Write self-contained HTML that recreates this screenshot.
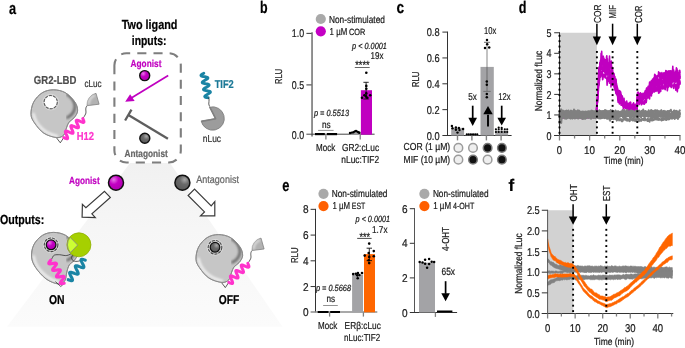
<!DOCTYPE html><html><head><meta charset="utf-8"><title>Figure</title>
<style>html,body{margin:0;padding:0;background:#fff;}svg{display:block;will-change:transform;font-family:'Liberation Sans', Arial, sans-serif;text-rendering:geometricPrecision;}</style></head><body>
<svg width="685" height="348" viewBox="0 0 685 348">
<defs>
<linearGradient id="beam" x1="0" y1="0" x2="0" y2="1"><stop offset="0" stop-color="#f1f1f1"/><stop offset="0.4" stop-color="#f6f6f6"/><stop offset="1" stop-color="#fbfbfb"/></linearGradient>
<radialGradient id="gMag" cx="0.35" cy="0.3" r="0.7"><stop offset="0" stop-color="#e878e8"/><stop offset="0.45" stop-color="#c400c4"/><stop offset="1" stop-color="#b000b0"/></radialGradient>
<radialGradient id="gGry" cx="0.65" cy="0.3" r="0.7"><stop offset="0" stop-color="#a8a8a8"/><stop offset="0.45" stop-color="#6a6a6a"/><stop offset="1" stop-color="#5a5a5a"/></radialGradient>
<radialGradient id="gBlob" cx="0.4" cy="0.4" r="0.75"><stop offset="0" stop-color="#c4c4c4"/><stop offset="0.7" stop-color="#bcbcbc"/><stop offset="1" stop-color="#aaaaaa"/></radialGradient>
<filter id="blur1" x="-20%" y="-20%" width="140%" height="140%"><feGaussianBlur stdDeviation="1.0"/></filter>
<clipPath id="blobclip"><path id="blobp" d="M53.40,89.80 C57.28,89.80 61.90,90.73 65.50,92.80 C69.10,94.87 72.98,99.18 75.00,102.20 C77.02,105.22 77.75,108.30 77.60,110.90 C77.45,113.50 75.53,115.93 74.10,117.80 C72.67,119.67 70.28,120.38 69.00,122.10 C67.72,123.82 67.27,125.95 66.40,128.10 C65.53,130.25 65.38,133.42 63.80,135.00 C62.22,136.58 60.20,137.88 56.90,137.60 C53.60,137.32 47.73,135.75 44.00,133.30 C40.27,130.85 36.67,126.07 34.50,122.90 C32.33,119.73 31.15,117.75 31.00,114.30 C30.85,110.85 31.73,105.78 33.60,102.20 C35.47,98.62 38.90,94.87 42.20,92.80 C45.50,90.73 49.52,89.80 53.40,89.80Z"/></clipPath>
</defs>
<polygon points="130,163 170,163 282.5,326.8 7,326.8" fill="url(#beam)"/>
<text x="8.90" y="14.40" font-size="16.8" font-weight="bold" fill="#000" stroke="#000" stroke-width="0.22" textLength="7.10" lengthAdjust="spacingAndGlyphs">a</text>
<text x="121.70" y="29.20" font-size="13.1" font-weight="bold" fill="#000" stroke="#000" stroke-width="0.22" textLength="55.80" lengthAdjust="spacingAndGlyphs">Two ligand</text>
<text x="131.80" y="44.70" font-size="13.1" font-weight="bold" fill="#000" stroke="#000" stroke-width="0.22" textLength="34.60" lengthAdjust="spacingAndGlyphs">inputs:</text>
<path d="M114.4,65.2 V150.5 A12,12 0 0 0 126.4,162.5 H168.8 A12,12 0 0 0 180.8,150.5 V65.2 A12,12 0 0 0 168.8,53.2 H126.4 A12,12 0 0 0 114.4,65.2" fill="#fff" stroke="#7e7e7e" stroke-width="2.1" stroke-dasharray="9.1,7.1"/>
<text x="130.60" y="66.80" font-size="10.2" font-weight="bold" fill="#c000c0" stroke="#c000c0" stroke-width="0.22" textLength="30.80" lengthAdjust="spacingAndGlyphs">Agonist</text>
<circle cx="144.70" cy="75.60" r="5.0" fill="url(#gMag)" stroke="#111" stroke-width="1.4"/>
<line x1="168.20" y1="75.60" x2="130.50" y2="98.60" stroke="#c000c0" stroke-width="1.7" />
<polygon points="125.2,101.8 130.1,94.2 134.7,101.1" fill="#c000c0"/>
<line x1="131.50" y1="109.60" x2="125.10" y2="120.50" stroke="#5e5e5e" stroke-width="2.3" />
<line x1="128.40" y1="115.00" x2="167.90" y2="138.80" stroke="#5e5e5e" stroke-width="2.3" />
<circle cx="144.80" cy="138.30" r="5.0" fill="url(#gGry)" stroke="#111" stroke-width="1.4"/>
<text x="124.50" y="156.80" font-size="10.2" font-weight="bold" fill="#666" stroke="#666" stroke-width="0.22" textLength="43.30" lengthAdjust="spacingAndGlyphs">Antagonist</text>
<text x="33.80" y="84.30" font-size="11.6" font-weight="bold" fill="#4d4d4d" stroke="#4d4d4d" stroke-width="0.22" textLength="42.50" lengthAdjust="spacingAndGlyphs">GR2-LBD</text>
<text x="84.40" y="87.10" font-size="10.1" font-weight="normal" fill="#333" stroke="#333" stroke-width="0.22" textLength="17.20" lengthAdjust="spacingAndGlyphs">cLuc</text>
<path d="M87.1,105.7 C84.5,108.5 86.8,111.5 85.6,114 C84.8,116 83.5,117.5 82.8,118.6" fill="none" stroke="#333" stroke-width="0.8"/>
<path d="M63.8,137.6 L60.3,142.8 L56.2,137.4" fill="none" stroke="#333" stroke-width="0.8"/>
<g transform="translate(0,0)">
<path d="M53.40,89.80 C57.28,89.80 61.90,90.73 65.50,92.80 C69.10,94.87 72.98,99.18 75.00,102.20 C77.02,105.22 77.75,108.30 77.60,110.90 C77.45,113.50 75.53,115.93 74.10,117.80 C72.67,119.67 70.28,120.38 69.00,122.10 C67.72,123.82 67.27,125.95 66.40,128.10 C65.53,130.25 65.38,133.42 63.80,135.00 C62.22,136.58 60.20,137.88 56.90,137.60 C53.60,137.32 47.73,135.75 44.00,133.30 C40.27,130.85 36.67,126.07 34.50,122.90 C32.33,119.73 31.15,117.75 31.00,114.30 C30.85,110.85 31.73,105.78 33.60,102.20 C35.47,98.62 38.90,94.87 42.20,92.80 C45.50,90.73 49.52,89.80 53.40,89.80Z" fill="#c6c6c6" stroke="#8a8a8a" stroke-width="0.9"/>
<g clip-path="url(#blobclip)">
<path d="M67.5,94.5 C74.5,98.5 76.6,106.5 73.5,112 C72,115 69.5,116.5 67.5,117.5" fill="none" stroke="#6e6e6e" stroke-width="2.8" filter="url(#blur1)" stroke-linecap="round"/>
<path d="M33.5,114 C35.5,125 45,133.5 57,136" fill="none" stroke="#efefef" stroke-width="2.6" filter="url(#blur1)" stroke-linecap="round"/>
</g>
<path d="M53.40,89.80 C57.28,89.80 61.90,90.73 65.50,92.80 C69.10,94.87 72.98,99.18 75.00,102.20 C77.02,105.22 77.75,108.30 77.60,110.90 C77.45,113.50 75.53,115.93 74.10,117.80 C72.67,119.67 70.28,120.38 69.00,122.10 C67.72,123.82 67.27,125.95 66.40,128.10 C65.53,130.25 65.38,133.42 63.80,135.00 C62.22,136.58 60.20,137.88 56.90,137.60 C53.60,137.32 47.73,135.75 44.00,133.30 C40.27,130.85 36.67,126.07 34.50,122.90 C32.33,119.73 31.15,117.75 31.00,114.30 C30.85,110.85 31.73,105.78 33.60,102.20 C35.47,98.62 38.90,94.87 42.20,92.80 C45.50,90.73 49.52,89.80 53.40,89.80Z" fill="none" stroke="#8a8a8a" stroke-width="0.9"/>
<circle cx="50.70" cy="102.10" r="7.9" fill="none" stroke="#dedede" stroke-width="0.8"/>
<circle cx="50.70" cy="102.10" r="6.5" fill="#fff"/>
<circle cx="50.7" cy="102.1" r="6.6" fill="none" stroke="#5a5a5a" stroke-width="1.1" stroke-dasharray="3.0,1.15"/>
</g>
<g transform="translate(0,0)">
<path d="M99.1,104.2 L96,93.3 A11.6,11.6 0 0 0 87.1,105.7 Z" fill="#b2b2b2" stroke="#808080" stroke-width="0.8" stroke-linejoin="round"/>
<path d="M95,95.2 A10,10 0 0 0 88.6,104.6" fill="none" stroke="#e0e0e0" stroke-width="2" filter="url(#blur1)"/>
</g>
<path d="M82.80,118.60 L83.20,119.47 L83.54,120.29 L83.80,121.03 L83.93,121.63 L83.90,122.08 L83.70,122.35 L83.33,122.45 L82.79,122.39 L82.11,122.18 L81.32,121.87 L80.46,121.49 L79.58,121.08 L78.74,120.71 L77.96,120.41 L77.30,120.22 L76.78,120.18 L76.43,120.31 L76.26,120.61 L76.25,121.08 L76.40,121.70 L76.67,122.45 L77.03,123.28 L77.43,124.15 L77.82,125.02 L78.16,125.83 L78.40,126.55 L78.51,127.13 L78.45,127.55 L78.23,127.80 L77.83,127.88 L77.27,127.79 L76.57,127.57 L75.77,127.25 L74.91,126.86 L74.03,126.46 L73.19,126.09 L72.43,125.80 L71.79,125.64 L71.29,125.62 L70.97,125.77 L70.82,126.09 L70.84,126.59 L71.00,127.23 L71.29,127.99 L71.66,128.83 L72.06,129.71 L72.45,130.57 L72.77,131.37 L72.99,132.07 L73.08,132.63 L73.00,133.03 L72.75,133.25 L72.33,133.31 L71.75,133.20 L71.03,132.96 L70.22,132.62 L69.35,132.23 L68.48,131.83 L67.65,131.47 L66.90,131.20 L66.28,131.05 L65.81,131.06 L65.51,131.23 L65.38,131.58 L65.42,132.10 L65.61,132.76 L65.91,133.54 L66.28,134.38 L66.69,135.26 L67.07,136.12 L67.38,136.91 L67.59,137.59 L67.65,138.13 L67.55,138.50 L67.28,138.70 L66.83,138.73 L66.23,138.60 L65.49,138.34 L64.67,138.00 L63.80,137.60" fill="none" stroke="#ff33cc" stroke-width="3" stroke-linecap="round" stroke-linejoin="round"/>
<text x="76.70" y="140.20" font-size="11.5" font-weight="bold" fill="#ff33cc" stroke="#ff33cc" stroke-width="0.22" textLength="17.30" lengthAdjust="spacingAndGlyphs">H12</text>
<path d="M203.80,73.20 L203.00,73.66 L202.26,74.11 L201.65,74.54 L201.21,74.93 L200.99,75.29 L200.99,75.61 L201.23,75.88 L201.69,76.12 L202.34,76.32 L203.14,76.49 L204.03,76.65 L204.95,76.80 L205.83,76.96 L206.62,77.14 L207.24,77.34 L207.68,77.58 L207.88,77.86 L207.85,78.19 L207.59,78.55 L207.13,78.95 L206.49,79.38 L205.75,79.83 L204.94,80.29 L204.15,80.75 L203.42,81.20 L202.83,81.62 L202.42,82.01 L202.23,82.37 L202.27,82.68 L202.54,82.95 L203.03,83.17 L203.71,83.37 L204.52,83.54 L205.42,83.70 L206.34,83.85 L207.21,84.01 L207.97,84.20 L208.58,84.40 L208.98,84.65 L209.15,84.94 L209.09,85.27 L208.80,85.63 L208.30,86.04 L207.65,86.47 L206.89,86.93 L206.08,87.39 L205.29,87.85 L204.59,88.29 L204.02,88.71 L203.64,89.10 L203.48,89.44 L203.55,89.75 L203.85,90.01 L204.37,90.23 L205.07,90.43 L205.91,90.59 L206.81,90.75 L207.73,90.90 L208.58,91.07 L209.33,91.25 L209.90,91.47 L210.27,91.72 L210.41,92.01 L210.32,92.34 L209.99,92.72 L209.48,93.13 L208.80,93.57 L208.03,94.02 L207.22,94.48 L206.44,94.94 L205.75,95.38 L205.21,95.80 L204.86,96.18 L204.73,96.52 L204.84,96.82 L205.17,97.07 L205.72,97.29 L206.44,97.48 L207.29,97.65 L208.20,97.80" fill="none" stroke="#1a84a4" stroke-width="2.9" stroke-linecap="round" stroke-linejoin="round"/>
<text x="214.70" y="88.20" font-size="11.4" font-weight="bold" fill="#1a7896" stroke="#1a7896" stroke-width="0.22" textLength="19.10" lengthAdjust="spacingAndGlyphs">TIF2</text>
<path d="M208.2,97.5 C210.5,100 207.5,103 209.5,106.5" fill="none" stroke="#333" stroke-width="0.8"/>
<path d="M215.60,118.70 L209.57,107.20 A11.7,11.7 0 1 1 201.16,120.93 Z" fill="#9c9c9c" stroke="#7a7a7a" stroke-width="0.8" stroke-linejoin="round"/>
<path d="M201.5,121.5 L215.6,118.7 L209.8,107" fill="none" stroke="#808080" stroke-width="1.6" stroke-linejoin="round"/>
<text x="202.80" y="141.60" font-size="10.1" font-weight="normal" fill="#333" stroke="#333" stroke-width="0.22" textLength="18.20" lengthAdjust="spacingAndGlyphs">nLuc</text>
<text x="69.00" y="183.60" font-size="10.2" font-weight="bold" fill="#c000c0" stroke="#c000c0" stroke-width="0.22" textLength="30.70" lengthAdjust="spacingAndGlyphs">Agonist</text>
<circle cx="116.00" cy="182.70" r="7.5" fill="url(#gMag)" stroke="#111" stroke-width="1.5"/>
<circle cx="182.40" cy="182.70" r="7.5" fill="url(#gGry)" stroke="#111" stroke-width="1.5"/>
<text x="196.20" y="182.90" font-size="10.6" font-weight="normal" fill="#666" stroke="#666" stroke-width="0.22" textLength="42.80" lengthAdjust="spacingAndGlyphs">Antagonist</text>
<polygon points="104.5,191.4 110.3,197.4 91.9,213.8 95.3,217.6 82.1,217.2 82.4,204.3 85.9,207.6" fill="#fff" stroke="#3a3a3a" stroke-width="1.2" stroke-linejoin="miter"/>
<polygon points="194.5,189.1 188.1,195.5 204.5,211.9 200.5,215.9 214.8,215.9 214.8,201.6 211.2,205.9" fill="#fff" stroke="#3a3a3a" stroke-width="1.2" stroke-linejoin="miter"/>
<text x="0.00" y="224.00" font-size="13.1" font-weight="bold" fill="#000" stroke="#000" stroke-width="0.22" textLength="44.30" lengthAdjust="spacingAndGlyphs">Outputs:</text>
<g transform="translate(0.2,142.6)">
<clipPath id="blobclip2"><path d="M53.40,89.80 C57.28,89.80 61.90,90.73 65.50,92.80 C69.10,94.87 72.98,99.18 75.00,102.20 C77.02,105.22 77.75,108.30 77.60,110.90 C77.45,113.50 75.53,115.90 74.10,117.80 C72.67,119.70 70.25,120.35 69.00,122.30 C67.75,124.25 67.33,126.85 66.60,129.50 C65.87,132.15 66.03,136.23 64.60,138.20 C63.17,140.17 61.10,141.60 58.00,141.30 C54.90,141.00 49.75,139.12 46.00,136.40 C42.25,133.68 37.93,128.65 35.50,125.00 C33.07,121.35 31.72,118.30 31.40,114.50 C31.08,110.70 31.80,105.82 33.60,102.20 C35.40,98.58 38.90,94.87 42.20,92.80 C45.50,90.73 49.52,89.80 53.40,89.80Z"/></clipPath>
<path d="M53.40,89.80 C57.28,89.80 61.90,90.73 65.50,92.80 C69.10,94.87 72.98,99.18 75.00,102.20 C77.02,105.22 77.75,108.30 77.60,110.90 C77.45,113.50 75.53,115.90 74.10,117.80 C72.67,119.70 70.25,120.35 69.00,122.30 C67.75,124.25 67.33,126.85 66.60,129.50 C65.87,132.15 66.03,136.23 64.60,138.20 C63.17,140.17 61.10,141.60 58.00,141.30 C54.90,141.00 49.75,139.12 46.00,136.40 C42.25,133.68 37.93,128.65 35.50,125.00 C33.07,121.35 31.72,118.30 31.40,114.50 C31.08,110.70 31.80,105.82 33.60,102.20 C35.40,98.58 38.90,94.87 42.20,92.80 C45.50,90.73 49.52,89.80 53.40,89.80Z" fill="#c6c6c6" stroke="#8a8a8a" stroke-width="0.9"/>
<g clip-path="url(#blobclip2)">
<path d="M67.5,94.5 C74.5,98.5 76.6,106.5 73.5,112 C72,115 69.5,116.5 67.5,117.5" fill="none" stroke="#6e6e6e" stroke-width="2.8" filter="url(#blur1)" stroke-linecap="round"/>
<path d="M33.5,114 C35.5,126 46,136 58,139.5" fill="none" stroke="#efefef" stroke-width="2.6" filter="url(#blur1)" stroke-linecap="round"/>
</g>
<path d="M53.40,89.80 C57.28,89.80 61.90,90.73 65.50,92.80 C69.10,94.87 72.98,99.18 75.00,102.20 C77.02,105.22 77.75,108.30 77.60,110.90 C77.45,113.50 75.53,115.90 74.10,117.80 C72.67,119.70 70.25,120.35 69.00,122.30 C67.75,124.25 67.33,126.85 66.60,129.50 C65.87,132.15 66.03,136.23 64.60,138.20 C63.17,140.17 61.10,141.60 58.00,141.30 C54.90,141.00 49.75,139.12 46.00,136.40 C42.25,133.68 37.93,128.65 35.50,125.00 C33.07,121.35 31.72,118.30 31.40,114.50 C31.08,110.70 31.80,105.82 33.60,102.20 C35.40,98.58 38.90,94.87 42.20,92.80 C45.50,90.73 49.52,89.80 53.40,89.80Z" fill="none" stroke="#8a8a8a" stroke-width="0.9"/>
</g>
<circle cx="51.10" cy="244.80" r="7.9" fill="none" stroke="#dedede" stroke-width="0.8"/>
<circle cx="51.10" cy="244.80" r="6.1" fill="#f2f2f2"/>
<circle cx="51.1" cy="244.8" r="6.8" fill="none" stroke="#4a4a4a" stroke-width="1.1" stroke-dasharray="3.0,1.1"/>
<circle cx="51.10" cy="244.80" r="4.85" fill="url(#gMag)" stroke="#111" stroke-width="1.3"/>
<path d="M71.6,253.1 C70.5,254.6 67,255.8 65.2,255.6 C62,255.2 60,254.5 58.2,254.7 C56.5,254.8 55,254.6 54.1,255.2 C52.8,256.2 52.6,257.4 52.1,258.2 C51.6,259 51.2,259.6 50.7,260.2" fill="none" stroke="#333" stroke-width="0.8"/>
<path d="M72.8,255.2 C72,256.5 71,257.2 71.6,258.2 C72,259.5 72.3,260.4 73.2,260.8 C75,261.6 76.8,261.4 78.3,261.2 C80.5,260.8 82,259.6 83.3,259.6 C84.2,259.6 84.8,259.9 85.3,260.2" fill="none" stroke="#333" stroke-width="0.8"/>
<path d="M64.2,283.3 L60.8,286.5 L55.4,281.6" fill="none" stroke="#333" stroke-width="0.8"/>
<circle cx="78.90" cy="244.80" r="12" fill="#a6d000" stroke="#8fae00" stroke-width="0.8"/>
<path d="M77.7,245.1 L70.1,237.2 A12,12 0 0 0 70.4,252.6 Z" fill="#ccff33" stroke="#8c8c78" stroke-width="0.9" stroke-linejoin="round"/>
<path d="M50.70,260.20 L50.10,260.94 L49.55,261.65 L49.11,262.29 L48.84,262.84 L48.75,263.28 L48.87,263.59 L49.21,263.78 L49.75,263.86 L50.45,263.83 L51.30,263.72 L52.22,263.57 L53.17,263.40 L54.09,263.26 L54.91,263.16 L55.60,263.15 L56.11,263.24 L56.42,263.44 L56.51,263.78 L56.39,264.23 L56.09,264.80 L55.64,265.45 L55.08,266.16 L54.47,266.91 L53.87,267.64 L53.34,268.34 L52.92,268.97 L52.67,269.51 L52.61,269.93 L52.76,270.23 L53.13,270.40 L53.69,270.46 L54.43,270.42 L55.28,270.31 L56.21,270.15 L57.16,269.98 L58.07,269.84 L58.88,269.75 L59.54,269.75 L60.02,269.86 L60.30,270.08 L60.36,270.44 L60.22,270.91 L59.89,271.49 L59.42,272.15 L58.85,272.87 L58.24,273.61 L57.65,274.35 L57.13,275.04 L56.73,275.66 L56.51,276.18 L56.48,276.58 L56.66,276.86 L57.06,277.02 L57.65,277.06 L58.40,277.01 L59.27,276.88 L60.21,276.72 L61.15,276.56 L62.05,276.42 L62.84,276.35 L63.48,276.36 L63.93,276.48 L64.18,276.73 L64.21,277.10 L64.04,277.58 L63.69,278.18 L63.20,278.85 L62.62,279.57 L62.01,280.32 L61.42,281.05 L60.92,281.73 L60.55,282.34 L60.35,282.84 L60.35,283.23 L60.56,283.49 L60.99,283.63 L61.60,283.66 L62.37,283.59 L63.26,283.46 L64.20,283.30" fill="none" stroke="#ff33cc" stroke-width="3.1" stroke-linecap="round" stroke-linejoin="round"/>
<path d="M85.30,260.20 L84.45,259.89 L83.64,259.61 L82.90,259.39 L82.26,259.25 L81.73,259.23 L81.34,259.32 L81.11,259.54 L81.02,259.89 L81.07,260.37 L81.25,260.96 L81.53,261.64 L81.90,262.39 L82.31,263.18 L82.73,263.98 L83.13,264.76 L83.47,265.50 L83.72,266.15 L83.86,266.70 L83.87,267.14 L83.73,267.45 L83.44,267.63 L83.01,267.68 L82.44,267.61 L81.76,267.45 L80.99,267.20 L80.17,266.91 L79.32,266.60 L78.48,266.29 L77.69,266.03 L76.97,265.83 L76.37,265.73 L75.89,265.74 L75.55,265.88 L75.36,266.14 L75.32,266.54 L75.42,267.05 L75.63,267.68 L75.95,268.38 L76.33,269.15 L76.75,269.95 L77.17,270.75 L77.55,271.52 L77.87,272.22 L78.08,272.85 L78.18,273.36 L78.14,273.76 L77.95,274.02 L77.61,274.16 L77.13,274.17 L76.53,274.07 L75.81,273.87 L75.02,273.61 L74.18,273.30 L73.33,272.99 L72.51,272.70 L71.74,272.45 L71.06,272.29 L70.49,272.22 L70.06,272.27 L69.77,272.45 L69.63,272.76 L69.64,273.20 L69.78,273.75 L70.03,274.40 L70.37,275.14 L70.77,275.92 L71.19,276.72 L71.60,277.51 L71.97,278.26 L72.25,278.94 L72.43,279.53 L72.48,280.01 L72.39,280.36 L72.16,280.58 L71.77,280.67 L71.24,280.65 L70.60,280.51 L69.86,280.29 L69.05,280.01 L68.20,279.70" fill="none" stroke="#1a84a4" stroke-width="3.1" stroke-linecap="round" stroke-linejoin="round"/>
<text x="49.00" y="304.30" font-size="12.8" font-weight="bold" fill="#000" stroke="#000" stroke-width="0.22" textLength="15.60" lengthAdjust="spacingAndGlyphs">ON</text>
<path transform="translate(165.0,144.8)" d="M87.1,105.7 C84.5,108.5 86.8,111.5 85.6,114 C84.8,116 83.5,117.5 82.8,118.6" fill="none" stroke="#333" stroke-width="0.8"/>
<path transform="translate(165.0,144.8)" d="M63.8,137.6 L60.3,142.8 L56.2,137.4" fill="none" stroke="#333" stroke-width="0.8"/>
<g transform="translate(165.0,144.8)">
<path d="M53.40,89.80 C57.28,89.80 61.90,90.73 65.50,92.80 C69.10,94.87 72.98,99.18 75.00,102.20 C77.02,105.22 77.75,108.30 77.60,110.90 C77.45,113.50 75.53,115.93 74.10,117.80 C72.67,119.67 70.28,120.38 69.00,122.10 C67.72,123.82 67.27,125.95 66.40,128.10 C65.53,130.25 65.38,133.42 63.80,135.00 C62.22,136.58 60.20,137.88 56.90,137.60 C53.60,137.32 47.73,135.75 44.00,133.30 C40.27,130.85 36.67,126.07 34.50,122.90 C32.33,119.73 31.15,117.75 31.00,114.30 C30.85,110.85 31.73,105.78 33.60,102.20 C35.47,98.62 38.90,94.87 42.20,92.80 C45.50,90.73 49.52,89.80 53.40,89.80Z" fill="#c6c6c6" stroke="#8a8a8a" stroke-width="0.9"/>
<g clip-path="url(#blobclip)">
<path d="M67.5,94.5 C74.5,98.5 76.6,106.5 73.5,112 C72,115 69.5,116.5 67.5,117.5" fill="none" stroke="#6e6e6e" stroke-width="2.8" filter="url(#blur1)" stroke-linecap="round"/>
<path d="M33.5,114 C35.5,125 45,133.5 57,136" fill="none" stroke="#efefef" stroke-width="2.6" filter="url(#blur1)" stroke-linecap="round"/>
</g>
<path d="M53.40,89.80 C57.28,89.80 61.90,90.73 65.50,92.80 C69.10,94.87 72.98,99.18 75.00,102.20 C77.02,105.22 77.75,108.30 77.60,110.90 C77.45,113.50 75.53,115.93 74.10,117.80 C72.67,119.67 70.28,120.38 69.00,122.10 C67.72,123.82 67.27,125.95 66.40,128.10 C65.53,130.25 65.38,133.42 63.80,135.00 C62.22,136.58 60.20,137.88 56.90,137.60 C53.60,137.32 47.73,135.75 44.00,133.30 C40.27,130.85 36.67,126.07 34.50,122.90 C32.33,119.73 31.15,117.75 31.00,114.30 C30.85,110.85 31.73,105.78 33.60,102.20 C35.47,98.62 38.90,94.87 42.20,92.80 C45.50,90.73 49.52,89.80 53.40,89.80Z" fill="none" stroke="#8a8a8a" stroke-width="0.9"/>
</g>
<circle cx="215.00" cy="247.30" r="7.9" fill="none" stroke="#dedede" stroke-width="0.8"/>
<circle cx="215.00" cy="247.30" r="6.1" fill="#f2f2f2"/>
<circle cx="215.0" cy="247.3" r="6.8" fill="none" stroke="#4a4a4a" stroke-width="1.1" stroke-dasharray="3.0,1.1"/>
<circle cx="215.00" cy="247.30" r="4.85" fill="url(#gGry)" stroke="#111" stroke-width="1.3"/>
<g transform="translate(165.0,144.8)">
<path d="M99.1,104.2 L96,93.3 A11.6,11.6 0 0 0 87.1,105.7 Z" fill="#b2b2b2" stroke="#808080" stroke-width="0.8" stroke-linejoin="round"/>
<path d="M95,95.2 A10,10 0 0 0 88.6,104.6" fill="none" stroke="#e0e0e0" stroke-width="2" filter="url(#blur1)"/>
</g>
<path transform="translate(165.0,144.8)" d="M82.80,118.60 L83.20,119.47 L83.54,120.29 L83.80,121.03 L83.93,121.63 L83.90,122.08 L83.70,122.35 L83.33,122.45 L82.79,122.39 L82.11,122.18 L81.32,121.87 L80.46,121.49 L79.58,121.08 L78.74,120.71 L77.96,120.41 L77.30,120.22 L76.78,120.18 L76.43,120.31 L76.26,120.61 L76.25,121.08 L76.40,121.70 L76.67,122.45 L77.03,123.28 L77.43,124.15 L77.82,125.02 L78.16,125.83 L78.40,126.55 L78.51,127.13 L78.45,127.55 L78.23,127.80 L77.83,127.88 L77.27,127.79 L76.57,127.57 L75.77,127.25 L74.91,126.86 L74.03,126.46 L73.19,126.09 L72.43,125.80 L71.79,125.64 L71.29,125.62 L70.97,125.77 L70.82,126.09 L70.84,126.59 L71.00,127.23 L71.29,127.99 L71.66,128.83 L72.06,129.71 L72.45,130.57 L72.77,131.37 L72.99,132.07 L73.08,132.63 L73.00,133.03 L72.75,133.25 L72.33,133.31 L71.75,133.20 L71.03,132.96 L70.22,132.62 L69.35,132.23 L68.48,131.83 L67.65,131.47 L66.90,131.20 L66.28,131.05 L65.81,131.06 L65.51,131.23 L65.38,131.58 L65.42,132.10 L65.61,132.76 L65.91,133.54 L66.28,134.38 L66.69,135.26 L67.07,136.12 L67.38,136.91 L67.59,137.59 L67.65,138.13 L67.55,138.50 L67.28,138.70 L66.83,138.73 L66.23,138.60 L65.49,138.34 L64.67,138.00 L63.80,137.60" fill="none" stroke="#ff33cc" stroke-width="3" stroke-linecap="round" stroke-linejoin="round"/>
<text x="218.70" y="304.30" font-size="12.8" font-weight="bold" fill="#000" stroke="#000" stroke-width="0.22" textLength="20.50" lengthAdjust="spacingAndGlyphs">OFF</text>
<text x="260.10" y="12.50" font-size="16.8" font-weight="bold" fill="#000" stroke="#000" stroke-width="0.22" textLength="7.60" lengthAdjust="spacingAndGlyphs">b</text>
<circle cx="320.80" cy="19.00" r="5.1" fill="#a9a9a9"/>
<circle cx="320.80" cy="31.30" r="5.1" fill="#c400c4"/>
<text x="329.00" y="22.50" font-size="10.1" font-weight="normal" fill="#1a1a1a" stroke="#1a1a1a" stroke-width="0.22" textLength="55.90" lengthAdjust="spacingAndGlyphs">Non-stimulated</text>
<text x="329.60" y="34.80" font-size="10.1" font-weight="normal" fill="#1a1a1a" stroke="#1a1a1a" stroke-width="0.22" textLength="17.60" lengthAdjust="spacingAndGlyphs">1 µM</text>
<text x="349.00" y="34.80" font-size="9.0" font-weight="normal" fill="#1a1a1a" stroke="#1a1a1a" stroke-width="0.22" textLength="16.30" lengthAdjust="spacingAndGlyphs">COR</text>
<line x1="312.05" y1="32.20" x2="312.05" y2="136.40" stroke="#8c8c8c" stroke-width="1.9" />
<line x1="306.40" y1="134.20" x2="374.60" y2="134.20" stroke="#444" stroke-width="1" />
<line x1="306.40" y1="33.40" x2="311.60" y2="33.40" stroke="#444" stroke-width="1.1" />
<line x1="306.40" y1="84.90" x2="311.60" y2="84.90" stroke="#444" stroke-width="1.1" />
<line x1="325.90" y1="134.70" x2="325.90" y2="139.50" stroke="#777" stroke-width="1.2" />
<line x1="360.20" y1="134.70" x2="360.20" y2="139.50" stroke="#777" stroke-width="1.2" />
<text x="291.80" y="37.40" font-size="11.3" font-weight="normal" fill="#1a1a1a" stroke="#1a1a1a" stroke-width="0.22" textLength="12.30" lengthAdjust="spacingAndGlyphs">1.0</text>
<text x="291.80" y="88.90" font-size="11.3" font-weight="normal" fill="#1a1a1a" stroke="#1a1a1a" stroke-width="0.22" textLength="12.30" lengthAdjust="spacingAndGlyphs">0.5</text>
<text x="291.80" y="139.20" font-size="11.3" font-weight="normal" fill="#1a1a1a" stroke="#1a1a1a" stroke-width="0.22" textLength="12.30" lengthAdjust="spacingAndGlyphs">0.0</text>
<text transform="translate(282.00,84.00) rotate(-90)" font-size="10" font-weight="normal" fill="#1a1a1a" stroke="#1a1a1a" stroke-width="0.22" textLength="15.10" lengthAdjust="spacingAndGlyphs">RLU</text>
<rect x="360.90" y="90.20" width="11.10" height="44.50" fill="#c000c0"/>
<rect x="349.60" y="132.60" width="10.60" height="2.10" fill="#a3a3a6"/>
<line x1="366.10" y1="82.30" x2="366.10" y2="99.00" stroke="#111" stroke-width="0.9" />
<line x1="363.40" y1="82.30" x2="368.70" y2="82.30" stroke="#111" stroke-width="0.9" />
<line x1="363.40" y1="99.00" x2="368.70" y2="99.00" stroke="#111" stroke-width="0.9" />
<circle cx="366.30" cy="72.70" r="1.3" fill="#000"/>
<circle cx="366.30" cy="85.90" r="1.3" fill="#000"/>
<circle cx="366.30" cy="88.80" r="1.3" fill="#000"/>
<circle cx="366.30" cy="93.40" r="1.3" fill="#000"/>
<circle cx="364.40" cy="95.30" r="1.3" fill="#000"/>
<circle cx="370.20" cy="95.30" r="1.3" fill="#000"/>
<circle cx="362.00" cy="97.70" r="1.3" fill="#000"/>
<circle cx="367.30" cy="97.70" r="1.3" fill="#000"/>
<circle cx="366.00" cy="96.40" r="1.3" fill="#000"/>
<line x1="315.00" y1="134.10" x2="324.80" y2="134.10" stroke="#000" stroke-width="2.2" />
<line x1="326.90" y1="134.10" x2="337.10" y2="134.10" stroke="#000" stroke-width="2.2" />
<circle cx="350.00" cy="133.00" r="1.2" fill="#000"/>
<circle cx="351.80" cy="132.60" r="1.2" fill="#000"/>
<circle cx="353.40" cy="132.20" r="1.2" fill="#000"/>
<circle cx="354.80" cy="131.40" r="1.2" fill="#000"/>
<circle cx="356.00" cy="131.00" r="1.2" fill="#000"/>
<circle cx="357.20" cy="131.60" r="1.2" fill="#000"/>
<circle cx="358.40" cy="132.20" r="1.2" fill="#000"/>
<circle cx="359.40" cy="132.80" r="1.2" fill="#000"/>
<text x="352.10" y="48.70" font-size="9" font-weight="normal" fill="#1a1a1a" stroke="#1a1a1a" stroke-width="0.22" font-style="italic" textLength="34.80" lengthAdjust="spacingAndGlyphs">p &lt; 0.0001</text>
<text x="370.50" y="59.30" font-size="10" font-weight="normal" fill="#1a1a1a" stroke="#1a1a1a" stroke-width="0.22" textLength="12.90" lengthAdjust="spacingAndGlyphs">19x</text>
<text x="355.20" y="69.30" font-size="12" font-weight="normal" fill="#1a1a1a" stroke="#1a1a1a" stroke-width="0.22" textLength="14.40" lengthAdjust="spacingAndGlyphs">****</text>
<line x1="354.80" y1="67.50" x2="369.70" y2="67.50" stroke="#555" stroke-width="0.9" />
<text x="313.90" y="115.70" font-size="9" font-weight="normal" fill="#1a1a1a" stroke="#1a1a1a" stroke-width="0.22" font-style="italic" textLength="35.20" lengthAdjust="spacingAndGlyphs">p = 0.5513</text>
<text x="322.00" y="127.50" font-size="10" font-weight="normal" fill="#1a1a1a" stroke="#1a1a1a" stroke-width="0.22" textLength="8.70" lengthAdjust="spacingAndGlyphs">ns</text>
<line x1="318.10" y1="130.40" x2="333.60" y2="130.40" stroke="#777" stroke-width="0.8" />
<text x="316.00" y="151.40" font-size="10.1" font-weight="normal" fill="#1a1a1a" stroke="#1a1a1a" stroke-width="0.22" textLength="19.20" lengthAdjust="spacingAndGlyphs">Mock</text>
<text x="341.90" y="151.40" font-size="10.1" font-weight="normal" fill="#1a1a1a" stroke="#1a1a1a" stroke-width="0.22" textLength="37.20" lengthAdjust="spacingAndGlyphs">GR2:cLuc</text>
<text x="341.30" y="163.30" font-size="10.1" font-weight="normal" fill="#1a1a1a" stroke="#1a1a1a" stroke-width="0.22" textLength="37.80" lengthAdjust="spacingAndGlyphs">nLuc:TIF2</text>
<text x="396.60" y="12.50" font-size="16.8" font-weight="bold" fill="#000" stroke="#000" stroke-width="0.22" textLength="7.60" lengthAdjust="spacingAndGlyphs">c</text>
<line x1="447.50" y1="31.60" x2="447.50" y2="135.50" stroke="#333" stroke-width="1" />
<line x1="442.40" y1="135.50" x2="511.60" y2="135.50" stroke="#333" stroke-width="1" />
<line x1="442.40" y1="109.65" x2="447.50" y2="109.65" stroke="#333" stroke-width="1" />
<line x1="442.40" y1="83.80" x2="447.50" y2="83.80" stroke="#333" stroke-width="1" />
<line x1="442.40" y1="57.95" x2="447.50" y2="57.95" stroke="#333" stroke-width="1" />
<line x1="442.40" y1="32.10" x2="447.50" y2="32.10" stroke="#333" stroke-width="1" />
<line x1="457.50" y1="135.50" x2="457.50" y2="140.40" stroke="#808080" stroke-width="1.4" />
<line x1="471.90" y1="135.50" x2="471.90" y2="140.40" stroke="#808080" stroke-width="1.4" />
<line x1="486.40" y1="135.50" x2="486.40" y2="140.40" stroke="#808080" stroke-width="1.4" />
<line x1="501.10" y1="135.50" x2="501.10" y2="140.40" stroke="#808080" stroke-width="1.4" />
<text x="426.70" y="139.80" font-size="11.3" font-weight="normal" fill="#1a1a1a" stroke="#1a1a1a" stroke-width="0.22" textLength="12.90" lengthAdjust="spacingAndGlyphs">0.0</text>
<text x="426.70" y="113.95" font-size="11.3" font-weight="normal" fill="#1a1a1a" stroke="#1a1a1a" stroke-width="0.22" textLength="12.90" lengthAdjust="spacingAndGlyphs">0.2</text>
<text x="426.70" y="88.10" font-size="11.3" font-weight="normal" fill="#1a1a1a" stroke="#1a1a1a" stroke-width="0.22" textLength="12.90" lengthAdjust="spacingAndGlyphs">0.4</text>
<text x="426.70" y="62.25" font-size="11.3" font-weight="normal" fill="#1a1a1a" stroke="#1a1a1a" stroke-width="0.22" textLength="12.90" lengthAdjust="spacingAndGlyphs">0.6</text>
<text x="426.70" y="36.40" font-size="11.3" font-weight="normal" fill="#1a1a1a" stroke="#1a1a1a" stroke-width="0.22" textLength="12.90" lengthAdjust="spacingAndGlyphs">0.8</text>
<text transform="translate(419.00,87.30) rotate(-90)" font-size="10" font-weight="normal" fill="#1a1a1a" stroke="#1a1a1a" stroke-width="0.22" textLength="15.90" lengthAdjust="spacingAndGlyphs">RLU</text>
<rect x="451.20" y="127.90" width="12.90" height="7.60" fill="#a3a3a6"/>
<rect x="465.60" y="134.40" width="12.80" height="1.10" fill="#a3a3a6"/>
<rect x="480.50" y="66.90" width="13.30" height="68.60" fill="#a3a3a6"/>
<rect x="495.20" y="130.60" width="12.90" height="4.90" fill="#a3a3a6"/>
<line x1="487.00" y1="42.30" x2="487.00" y2="91.40" stroke="#555" stroke-width="0.7" />
<line x1="484.00" y1="42.30" x2="490.10" y2="42.30" stroke="#444" stroke-width="0.8" />
<line x1="483.30" y1="91.40" x2="490.70" y2="91.40" stroke="#666" stroke-width="0.8" />
<circle cx="487.00" cy="39.90" r="1.25" fill="#000"/>
<circle cx="485.00" cy="48.00" r="1.25" fill="#000"/>
<circle cx="489.20" cy="47.40" r="1.25" fill="#000"/>
<circle cx="487.20" cy="44.20" r="1.25" fill="#000"/>
<circle cx="486.80" cy="81.60" r="1.25" fill="#000"/>
<circle cx="486.80" cy="84.70" r="1.25" fill="#000"/>
<circle cx="486.80" cy="93.90" r="1.25" fill="#000"/>
<circle cx="486.80" cy="97.30" r="1.25" fill="#000"/>
<circle cx="451.90" cy="125.90" r="1.2" fill="#000"/>
<circle cx="452.50" cy="128.30" r="1.2" fill="#000"/>
<circle cx="455.90" cy="127.50" r="1.2" fill="#000"/>
<circle cx="455.90" cy="129.80" r="1.2" fill="#000"/>
<circle cx="457.50" cy="132.60" r="1.2" fill="#000"/>
<circle cx="458.90" cy="128.00" r="1.2" fill="#000"/>
<circle cx="459.50" cy="130.10" r="1.2" fill="#000"/>
<circle cx="463.10" cy="129.00" r="1.2" fill="#000"/>
<circle cx="466.80" cy="134.40" r="1.05" fill="#000"/>
<circle cx="468.55" cy="134.40" r="1.05" fill="#000"/>
<circle cx="470.30" cy="134.40" r="1.05" fill="#000"/>
<circle cx="472.05" cy="134.40" r="1.05" fill="#000"/>
<circle cx="473.80" cy="134.40" r="1.05" fill="#000"/>
<circle cx="475.55" cy="134.40" r="1.05" fill="#000"/>
<circle cx="477.30" cy="134.40" r="1.05" fill="#000"/>
<circle cx="495.90" cy="129.30" r="1.1" fill="#000"/>
<circle cx="498.70" cy="129.30" r="1.1" fill="#000"/>
<circle cx="501.70" cy="129.30" r="1.1" fill="#000"/>
<circle cx="504.80" cy="129.30" r="1.1" fill="#000"/>
<circle cx="507.20" cy="129.30" r="1.1" fill="#000"/>
<circle cx="495.90" cy="132.00" r="1.1" fill="#000"/>
<circle cx="498.70" cy="132.00" r="1.1" fill="#000"/>
<circle cx="501.70" cy="132.00" r="1.1" fill="#000"/>
<circle cx="504.80" cy="132.00" r="1.1" fill="#000"/>
<circle cx="507.20" cy="132.00" r="1.1" fill="#000"/>
<circle cx="498.70" cy="127.60" r="1.1" fill="#000"/>
<circle cx="501.70" cy="127.90" r="1.1" fill="#000"/>
<line x1="472.70" y1="105.70" x2="472.70" y2="118.20" stroke="#000" stroke-width="1.7" />
<polygon points="468.40,117.70 477.00,117.70 472.70,126.10" fill="#000"/>
<line x1="501.70" y1="105.70" x2="501.70" y2="118.20" stroke="#000" stroke-width="1.7" />
<polygon points="497.40,117.70 506.00,117.70 501.70,125.60" fill="#000"/>
<line x1="488.00" y1="126.50" x2="488.00" y2="114.80" stroke="#000" stroke-width="1.9" />
<polygon points="483.30,114.30 492.70,114.30 488.00,106.10" fill="#000"/>
<text x="468.20" y="99.60" font-size="10" font-weight="normal" fill="#1a1a1a" stroke="#1a1a1a" stroke-width="0.22" textLength="8.60" lengthAdjust="spacingAndGlyphs">5x</text>
<text x="498.30" y="99.60" font-size="10" font-weight="normal" fill="#1a1a1a" stroke="#1a1a1a" stroke-width="0.22" textLength="12.20" lengthAdjust="spacingAndGlyphs">12x</text>
<text x="484.00" y="34.40" font-size="10" font-weight="normal" fill="#1a1a1a" stroke="#1a1a1a" stroke-width="0.22" textLength="12.20" lengthAdjust="spacingAndGlyphs">10x</text>
<text x="403.60" y="150.40" font-size="10.1" font-weight="normal" fill="#1a1a1a" stroke="#1a1a1a" stroke-width="0.22" textLength="46.60" lengthAdjust="spacingAndGlyphs">COR (1 µM)</text>
<text x="403.60" y="162.70" font-size="10.1" font-weight="normal" fill="#1a1a1a" stroke="#1a1a1a" stroke-width="0.22" textLength="46.60" lengthAdjust="spacingAndGlyphs">MIF (10 µM)</text>
<circle cx="458.40" cy="147.90" r="4.3" fill="#efefef" stroke="#9c9c9c" stroke-width="1.5"/>
<circle cx="473.00" cy="147.90" r="4.3" fill="#efefef" stroke="#9c9c9c" stroke-width="1.5"/>
<circle cx="487.60" cy="147.90" r="4.3" fill="#111" stroke="#7d7d7d" stroke-width="1.5"/>
<circle cx="501.90" cy="147.90" r="4.3" fill="#111" stroke="#7d7d7d" stroke-width="1.5"/>
<circle cx="458.40" cy="159.65" r="4.3" fill="#efefef" stroke="#9c9c9c" stroke-width="1.5"/>
<circle cx="473.00" cy="159.65" r="4.3" fill="#111" stroke="#7d7d7d" stroke-width="1.5"/>
<circle cx="487.60" cy="159.65" r="4.3" fill="#efefef" stroke="#9c9c9c" stroke-width="1.5"/>
<circle cx="501.90" cy="159.65" r="4.3" fill="#111" stroke="#7d7d7d" stroke-width="1.5"/>
<text x="518.80" y="12.50" font-size="16.8" font-weight="bold" fill="#000" stroke="#000" stroke-width="0.22" textLength="7.70" lengthAdjust="spacingAndGlyphs">d</text>
<rect x="559.50" y="32.75" width="37.40" height="102.75" fill="#d2d2d2"/>
<polyline points="559.5,116.8 559.8,116.4 560.1,116.7 560.4,116.9 560.7,117.3 561.0,117.0 561.3,116.1 561.6,116.3 561.9,116.0 562.2,116.3 562.5,116.4 562.8,116.5 563.1,117.6 563.4,116.4 563.7,116.3 564.0,116.3 564.3,117.6 564.6,118.0 564.9,117.5 565.2,117.2 565.5,116.6 565.8,116.7 566.1,116.4 566.4,117.0 566.7,116.6 567.0,116.4 567.3,117.0 567.6,115.7 567.9,116.1 568.2,115.8 568.5,116.8 568.8,117.2 569.1,117.0 569.4,116.8 569.7,116.3 570.0,116.4 570.3,116.9 570.6,117.3 570.9,117.1 571.2,116.1 571.5,117.0 571.8,116.6 572.2,116.4 572.5,117.5 572.8,116.9 573.1,115.9 573.4,117.7 573.7,117.1 574.0,116.9 574.3,117.2 574.6,116.5 574.9,116.7 575.2,117.6 575.5,116.4 575.8,116.2 576.1,116.0 576.4,115.6 576.7,116.2 577.0,116.5 577.3,117.4 577.6,116.5 577.9,117.0 578.2,117.0 578.5,117.5 578.8,117.5 579.1,117.2 579.4,116.0 579.7,117.7 580.0,117.8 580.3,116.8 580.6,115.8 580.9,116.1 581.2,117.7 581.5,118.4 581.8,116.9 582.1,117.2 582.4,117.5 582.7,116.3 583.0,115.9 583.3,116.4 583.6,116.5 583.9,116.4 584.2,115.6 584.5,116.0 584.8,116.2 585.1,116.2 585.4,117.5 585.7,116.1 586.0,116.0 586.3,116.2 586.6,117.7 586.9,117.3 587.2,116.3 587.5,117.7 587.8,117.0 588.1,116.2 588.4,117.3 588.7,115.9 589.0,116.1 589.3,116.6 589.6,116.5 589.9,116.2 590.2,116.5 590.5,115.9 590.8,116.9 591.1,117.0 591.4,116.1 591.7,116.5 592.0,117.2 592.3,116.2 592.6,115.7 592.9,116.7 593.2,117.5 593.5,117.0 593.8,116.8 594.1,116.9 594.4,115.9 594.7,117.1 595.0,116.0 595.3,117.3 595.6,117.3 595.9,116.5 596.2,115.9 596.5,111.5 596.8,108.5 597.1,105.3 597.5,101.8 597.8,97.3 598.1,94.8 598.4,90.5 598.7,86.0 599.0,85.1 599.3,81.6 599.6,79.6 599.9,74.0 600.2,75.3 600.5,77.1 600.8,76.7 601.1,74.9 601.4,71.2 601.7,72.9 602.0,72.1 602.3,68.4 602.6,79.7 602.9,79.0 603.2,75.5 603.5,74.4 603.8,74.7 604.1,76.7 604.4,74.6 604.7,75.2 605.0,77.6 605.3,70.8 605.6,74.6 605.9,78.1 606.2,78.0 606.5,78.5 606.8,78.3 607.1,85.3 607.4,81.4 607.7,76.8 608.0,81.4 608.3,79.9 608.6,77.1 608.9,76.8 609.2,75.3 609.5,83.1 609.8,81.8 610.1,81.7 610.4,79.4 610.7,77.8 611.0,86.9 611.3,80.1 611.6,84.8 611.9,80.9 612.2,85.4 612.5,82.7 612.8,79.7 613.1,83.2 613.4,84.0 613.7,83.6 614.0,85.8 614.3,87.6 614.6,85.3 614.9,86.6 615.2,90.6 615.5,85.7 615.8,93.3 616.1,91.5 616.4,94.1 616.7,94.6 617.0,94.2 617.3,95.7 617.6,95.9 617.9,100.6 618.2,102.3 618.5,99.1 618.8,101.5 619.1,102.5 619.4,103.9 619.7,99.7 620.0,99.9 620.3,99.0 620.6,103.3 620.9,103.1 621.2,105.3 621.5,102.9 621.8,101.3 622.1,105.4 622.5,102.7 622.8,103.3 623.1,105.4 623.4,109.0 623.7,104.6 624.0,106.0 624.3,107.3 624.6,106.2 624.9,106.0 625.2,104.4 625.5,108.1 625.8,105.8 626.1,104.8 626.4,104.7 626.7,107.4 627.0,109.1 627.3,106.9 627.6,107.9 627.9,108.3 628.2,106.5 628.5,108.8 628.8,112.5 629.1,110.6 629.4,112.3 629.7,108.8 630.0,108.7 630.3,110.1 630.6,109.6 630.9,108.3 631.2,109.1 631.5,107.5 631.8,109.2 632.1,108.0 632.4,107.1 632.7,106.7 633.0,110.0 633.3,108.6 633.6,112.4 633.9,112.2 634.2,113.4 634.5,109.3 634.8,111.7 635.1,110.6 635.4,110.6 635.7,110.4 636.0,111.2 636.3,110.2 636.6,107.7 636.9,109.7 637.2,104.0 637.5,97.6 637.8,100.0 638.1,102.9 638.4,102.7 638.7,100.1 639.0,104.6 639.3,104.2 639.6,101.1 639.9,100.6 640.2,101.7 640.5,100.5 640.8,101.2 641.1,103.6 641.4,104.8 641.7,103.4 642.0,100.2 642.3,101.9 642.6,102.9 642.9,102.8 643.2,104.0 643.5,101.7 643.8,102.9 644.1,100.2 644.4,104.3 644.7,100.2 645.0,100.7 645.3,103.0 645.6,98.5 645.9,99.0 646.2,102.5 646.5,100.7 646.8,97.8 647.1,98.3 647.5,95.8 647.8,95.1 648.1,94.8 648.4,95.2 648.7,93.1 649.0,93.7 649.3,94.0 649.6,98.9 649.9,94.0 650.2,91.7 650.5,94.1 650.8,94.9 651.1,90.0 651.4,96.0 651.7,92.8 652.0,87.7 652.3,93.2 652.6,91.0 652.9,87.7 653.2,90.8 653.5,90.0 653.8,88.8 654.1,92.1 654.4,91.0 654.7,89.7 655.0,88.0 655.3,89.2 655.6,89.7 655.9,91.4 656.2,90.3 656.5,87.2 656.8,88.1 657.1,90.4 657.4,90.8 657.7,83.2 658.0,84.5 658.3,85.9 658.6,93.3 658.9,88.0 659.2,86.9 659.5,83.9 659.8,85.8 660.1,87.3 660.4,86.3 660.7,91.5 661.0,86.1 661.3,86.2 661.6,88.5 661.9,84.4 662.2,82.2 662.5,88.9 662.8,88.8 663.1,86.5 663.4,86.1 663.7,87.3 664.0,88.8 664.3,82.1 664.6,82.8 664.9,88.0 665.2,89.6 665.5,83.0 665.8,83.0 666.1,81.1 666.4,82.9 666.7,87.2 667.0,85.7 667.3,90.8 667.6,88.8 667.9,86.7 668.2,84.9 668.5,87.3 668.8,86.5 669.1,84.9 669.4,84.7 669.7,84.0 670.0,84.8 670.3,86.2 670.6,84.0 670.9,85.1 671.2,87.4 671.5,87.5 671.8,86.1 672.1,85.9 672.5,85.3 672.8,85.5 673.1,85.1 673.4,85.7 673.7,88.4 674.0,85.2 674.3,82.9 674.6,83.8 674.9,85.4 675.2,84.3 675.5,87.3 675.8,90.2 676.1,86.4 676.4,87.7 676.7,84.1 677.0,87.4 677.3,91.8 677.6,89.2 677.9,82.5 678.2,85.3 678.5,88.3 678.8,87.6 679.1,84.5 679.4,83.7 679.7,84.2 680.0,81.3" fill="none" stroke="#c000c0" stroke-width="1.6" stroke-linejoin="round"/>
<polyline points="559.5,116.2 559.8,116.5 560.1,116.3 560.4,115.5 560.7,115.8 561.0,115.8 561.3,117.1 561.6,116.8 561.9,116.2 562.2,116.7 562.5,116.0 562.8,116.1 563.1,116.0 563.4,116.6 563.7,115.1 564.0,115.5 564.3,116.5 564.6,116.5 564.9,115.1 565.2,116.4 565.5,116.1 565.8,115.9 566.1,116.4 566.4,117.3 566.7,116.7 567.0,116.4 567.3,115.9 567.6,116.0 567.9,116.5 568.2,116.1 568.5,116.2 568.8,116.4 569.1,116.5 569.4,116.8 569.7,116.3 570.0,117.2 570.3,117.1 570.6,116.8 570.9,117.5 571.2,117.1 571.5,118.0 571.8,117.4 572.2,116.5 572.5,116.3 572.8,116.6 573.1,116.8 573.4,117.5 573.7,115.8 574.0,116.1 574.3,115.8 574.6,117.0 574.9,116.8 575.2,117.8 575.5,116.5 575.8,116.0 576.1,117.6 576.4,116.9 576.7,116.3 577.0,117.6 577.3,118.0 577.6,117.6 577.9,117.3 578.2,117.6 578.5,116.9 578.8,116.5 579.1,116.2 579.4,116.1 579.7,115.6 580.0,115.7 580.3,117.2 580.6,117.1 580.9,117.4 581.2,117.5 581.5,116.9 581.8,116.7 582.1,116.4 582.4,117.5 582.7,117.6 583.0,116.9 583.3,116.8 583.6,116.9 583.9,116.7 584.2,117.1 584.5,116.3 584.8,116.3 585.1,116.6 585.4,117.0 585.7,116.8 586.0,118.3 586.3,117.6 586.6,116.9 586.9,117.6 587.2,116.8 587.5,116.6 587.8,117.4 588.1,117.0 588.4,116.9 588.7,116.4 589.0,116.2 589.3,116.6 589.6,117.1 589.9,116.8 590.2,116.7 590.5,116.2 590.8,116.4 591.1,117.0 591.4,117.5 591.7,117.1 592.0,117.2 592.3,117.4 592.6,116.9 592.9,117.0 593.2,116.7 593.5,116.3 593.8,116.8 594.1,115.3 594.4,116.5 594.7,115.9 595.0,116.4 595.3,115.9 595.6,117.9 595.9,117.4 596.2,116.7 596.5,111.8 596.8,104.7 597.1,102.9 597.5,97.6 597.8,94.0 598.1,89.5 598.4,86.1 598.7,83.6 599.0,80.2 599.3,81.7 599.6,74.6 599.9,76.9 600.2,72.5 600.5,65.6 600.8,69.5 601.1,69.0 601.4,64.7 601.7,66.1 602.0,69.7 602.3,68.0 602.6,67.0 602.9,66.8 603.2,71.4 603.5,65.6 603.8,64.6 604.1,69.2 604.4,69.8 604.7,72.1 605.0,67.8 605.3,72.8 605.6,70.5 605.9,73.3 606.2,74.8 606.5,71.4 606.8,69.1 607.1,72.4 607.4,75.2 607.7,72.1 608.0,73.8 608.3,73.4 608.6,70.3 608.9,70.7 609.2,75.4 609.5,69.4 609.8,74.1 610.1,73.4 610.4,77.2 610.7,76.7 611.0,81.2 611.3,73.4 611.6,72.7 611.9,79.4 612.2,82.0 612.5,83.2 612.8,76.5 613.1,80.1 613.4,80.8 613.7,82.5 614.0,83.3 614.3,86.6 614.6,85.7 614.9,89.7 615.2,88.4 615.5,87.9 615.8,88.1 616.1,90.4 616.4,93.1 616.7,92.2 617.0,94.0 617.3,91.0 617.6,92.6 617.9,95.4 618.2,97.5 618.5,98.7 618.8,99.8 619.1,99.3 619.4,98.4 619.7,98.1 620.0,98.3 620.3,96.0 620.6,100.8 620.9,101.1 621.2,96.7 621.5,104.1 621.8,104.0 622.1,103.1 622.5,103.3 622.8,103.3 623.1,104.5 623.4,103.9 623.7,104.4 624.0,103.5 624.3,107.8 624.6,107.4 624.9,106.0 625.2,107.5 625.5,108.0 625.8,105.6 626.1,107.2 626.4,105.7 626.7,105.3 627.0,106.1 627.3,106.1 627.6,107.2 627.9,109.7 628.2,108.3 628.5,107.4 628.8,108.8 629.1,108.5 629.4,107.2 629.7,109.4 630.0,107.6 630.3,105.4 630.6,108.5 630.9,108.3 631.2,108.7 631.5,106.3 631.8,107.6 632.1,107.1 632.4,109.4 632.7,109.0 633.0,109.0 633.3,111.6 633.6,107.5 633.9,107.3 634.2,111.3 634.5,108.6 634.8,109.3 635.1,108.6 635.4,108.6 635.7,111.4 636.0,110.3 636.3,107.5 636.6,109.9 636.9,111.2 637.2,106.4 637.5,100.7 637.8,98.2 638.1,95.5 638.4,97.6 638.7,98.8 639.0,96.0 639.3,100.6 639.6,101.8 639.9,99.8 640.2,99.1 640.5,101.7 640.8,102.5 641.1,99.9 641.4,99.3 641.7,101.8 642.0,100.3 642.3,100.5 642.6,98.6 642.9,99.0 643.2,99.0 643.5,99.4 643.8,96.7 644.1,95.1 644.4,97.8 644.7,95.9 645.0,98.3 645.3,97.0 645.6,95.2 645.9,92.9 646.2,95.8 646.5,95.7 646.8,94.9 647.1,97.8 647.5,95.3 647.8,95.8 648.1,93.6 648.4,95.9 648.7,97.9 649.0,94.1 649.3,92.4 649.6,93.4 649.9,90.5 650.2,91.9 650.5,92.7 650.8,90.4 651.1,93.9 651.4,92.7 651.7,90.7 652.0,88.1 652.3,89.4 652.6,88.4 652.9,90.1 653.2,88.1 653.5,84.4 653.8,88.4 654.1,82.4 654.4,87.3 654.7,86.9 655.0,86.1 655.3,83.8 655.6,88.1 655.9,91.0 656.2,85.4 656.5,83.5 656.8,83.3 657.1,78.5 657.4,82.9 657.7,83.8 658.0,82.3 658.3,83.2 658.6,80.3 658.9,86.3 659.2,85.7 659.5,92.7 659.8,84.3 660.1,84.9 660.4,81.9 660.7,78.2 661.0,82.3 661.3,83.8 661.6,84.7 661.9,85.7 662.2,85.3 662.5,82.1 662.8,82.7 663.1,82.7 663.4,83.1 663.7,80.6 664.0,80.9 664.3,82.4 664.6,80.7 664.9,82.2 665.2,85.0 665.5,79.4 665.8,80.3 666.1,84.0 666.4,80.0 666.7,80.7 667.0,85.5 667.3,79.0 667.6,80.4 667.9,79.4 668.2,80.8 668.5,82.0 668.8,85.7 669.1,80.5 669.4,81.4 669.7,82.4 670.0,81.1 670.3,81.4 670.6,80.0 670.9,82.2 671.2,81.9 671.5,87.0 671.8,84.0 672.1,80.6 672.5,78.1 672.8,81.6 673.1,81.9 673.4,77.8 673.7,81.4 674.0,79.7 674.3,76.9 674.6,80.2 674.9,78.1 675.2,82.3 675.5,81.1 675.8,81.4 676.1,81.0 676.4,78.4 676.7,74.7 677.0,81.2 677.3,82.6 677.6,80.3 677.9,83.5 678.2,80.5 678.5,79.5 678.8,81.3 679.1,79.8 679.4,84.5 679.7,80.0 680.0,84.5" fill="none" stroke="#c000c0" stroke-width="1.6" stroke-linejoin="round"/>
<polyline points="559.5,117.0 559.8,117.0 560.1,116.9 560.4,116.2 560.7,116.4 561.0,116.8 561.3,116.3 561.6,115.6 561.9,116.3 562.2,116.3 562.5,115.8 562.8,116.2 563.1,117.3 563.4,115.3 563.7,114.9 564.0,117.4 564.3,116.8 564.6,116.4 564.9,116.0 565.2,116.0 565.5,116.6 565.8,117.2 566.1,116.7 566.4,116.0 566.7,117.1 567.0,117.3 567.3,116.8 567.6,117.8 567.9,117.1 568.2,117.0 568.5,116.4 568.8,117.0 569.1,117.2 569.4,117.0 569.7,116.7 570.0,117.0 570.3,116.7 570.6,116.2 570.9,115.8 571.2,115.4 571.5,116.8 571.8,116.9 572.2,118.2 572.5,115.8 572.8,116.8 573.1,116.7 573.4,116.3 573.7,117.3 574.0,116.5 574.3,116.6 574.6,117.7 574.9,116.7 575.2,115.9 575.5,117.5 575.8,116.3 576.1,116.4 576.4,116.3 576.7,116.2 577.0,115.7 577.3,116.5 577.6,116.0 577.9,116.7 578.2,116.2 578.5,117.0 578.8,116.8 579.1,115.6 579.4,116.1 579.7,116.6 580.0,117.3 580.3,117.2 580.6,116.6 580.9,116.0 581.2,116.2 581.5,116.2 581.8,116.5 582.1,115.8 582.4,116.6 582.7,116.9 583.0,116.1 583.3,116.4 583.6,116.7 583.9,117.0 584.2,116.8 584.5,116.3 584.8,116.3 585.1,117.2 585.4,116.5 585.7,116.5 586.0,117.2 586.3,116.3 586.6,116.7 586.9,116.8 587.2,116.2 587.5,115.7 587.8,116.8 588.1,116.4 588.4,117.1 588.7,115.3 589.0,116.6 589.3,115.9 589.6,116.8 589.9,116.2 590.2,115.2 590.5,117.8 590.8,117.1 591.1,116.4 591.4,116.6 591.7,117.0 592.0,115.4 592.3,116.2 592.6,117.5 592.9,116.3 593.2,117.6 593.5,116.1 593.8,116.8 594.1,116.6 594.4,115.8 594.7,116.3 595.0,117.4 595.3,117.8 595.6,116.2 595.9,116.0 596.2,116.9 596.5,111.1 596.8,106.5 597.1,101.6 597.5,102.3 597.8,95.5 598.1,87.7 598.4,82.5 598.7,77.3 599.0,83.2 599.3,76.1 599.6,71.5 599.9,62.6 600.2,68.5 600.5,67.6 600.8,65.4 601.1,61.3 601.4,63.4 601.7,58.1 602.0,63.7 602.3,62.3 602.6,64.9 602.9,63.9 603.2,66.7 603.5,70.2 603.8,63.3 604.1,64.1 604.4,67.2 604.7,65.9 605.0,63.5 605.3,68.9 605.6,67.9 605.9,66.0 606.2,65.8 606.5,68.5 606.8,74.5 607.1,66.5 607.4,67.3 607.7,68.7 608.0,70.0 608.3,69.0 608.6,70.9 608.9,73.3 609.2,73.3 609.5,73.1 609.8,73.3 610.1,75.1 610.4,70.7 610.7,75.2 611.0,71.1 611.3,74.9 611.6,72.3 611.9,69.1 612.2,71.8 612.5,75.2 612.8,74.1 613.1,74.8 613.4,80.9 613.7,80.4 614.0,79.2 614.3,81.5 614.6,81.7 614.9,81.1 615.2,81.9 615.5,82.5 615.8,84.2 616.1,87.4 616.4,88.3 616.7,89.9 617.0,91.1 617.3,91.9 617.6,96.1 617.9,95.0 618.2,94.8 618.5,97.0 618.8,96.0 619.1,95.2 619.4,96.7 619.7,93.2 620.0,101.6 620.3,99.6 620.6,102.5 620.9,98.5 621.2,94.8 621.5,103.7 621.8,101.6 622.1,100.8 622.5,102.4 622.8,101.8 623.1,106.5 623.4,102.5 623.7,102.5 624.0,103.3 624.3,104.7 624.6,103.1 624.9,104.8 625.2,104.2 625.5,105.4 625.8,108.8 626.1,106.1 626.4,105.3 626.7,104.3 627.0,106.9 627.3,106.3 627.6,105.3 627.9,106.0 628.2,104.6 628.5,103.3 628.8,107.7 629.1,110.3 629.4,106.7 629.7,104.8 630.0,105.3 630.3,105.7 630.6,108.0 630.9,108.8 631.2,106.6 631.5,108.8 631.8,110.8 632.1,110.1 632.4,104.6 632.7,104.2 633.0,108.1 633.3,109.2 633.6,108.0 633.9,109.3 634.2,106.5 634.5,108.0 634.8,109.9 635.1,106.8 635.4,109.0 635.7,108.3 636.0,108.6 636.3,109.1 636.6,108.3 636.9,109.7 637.2,105.6 637.5,100.8 637.8,99.8 638.1,99.0 638.4,97.8 638.7,97.8 639.0,97.3 639.3,98.4 639.6,100.1 639.9,100.3 640.2,102.8 640.5,99.7 640.8,97.5 641.1,96.8 641.4,97.7 641.7,97.9 642.0,95.7 642.3,96.8 642.6,95.6 642.9,95.4 643.2,96.0 643.5,93.9 643.8,96.9 644.1,96.9 644.4,97.5 644.7,97.4 645.0,92.4 645.3,90.5 645.6,93.2 645.9,92.5 646.2,90.8 646.5,90.9 646.8,89.8 647.1,94.3 647.5,93.9 647.8,91.3 648.1,88.3 648.4,90.0 648.7,92.3 649.0,91.5 649.3,91.7 649.6,91.9 649.9,86.6 650.2,89.6 650.5,88.7 650.8,83.4 651.1,84.0 651.4,85.7 651.7,88.1 652.0,86.1 652.3,82.5 652.6,83.6 652.9,82.2 653.2,84.2 653.5,83.5 653.8,84.7 654.1,83.2 654.4,80.5 654.7,86.1 655.0,83.9 655.3,82.4 655.6,83.7 655.9,83.1 656.2,80.3 656.5,76.5 656.8,78.8 657.1,80.1 657.4,84.9 657.7,77.5 658.0,80.0 658.3,80.9 658.6,83.7 658.9,81.7 659.2,83.6 659.5,81.1 659.8,79.4 660.1,80.0 660.4,79.4 660.7,82.0 661.0,76.9 661.3,80.7 661.6,84.5 661.9,81.3 662.2,81.8 662.5,82.5 662.8,80.9 663.1,78.8 663.4,81.9 663.7,79.9 664.0,75.4 664.3,76.0 664.6,78.2 664.9,78.0 665.2,78.6 665.5,78.5 665.8,76.5 666.1,78.0 666.4,84.3 666.7,79.8 667.0,80.8 667.3,77.2 667.6,79.4 667.9,78.0 668.2,72.5 668.5,79.3 668.8,81.2 669.1,82.4 669.4,85.2 669.7,84.6 670.0,78.6 670.3,79.7 670.6,83.1 670.9,82.9 671.2,77.5 671.5,79.7 671.8,79.2 672.1,77.2 672.5,74.1 672.8,71.8 673.1,73.5 673.4,76.2 673.7,76.8 674.0,72.7 674.3,72.6 674.6,77.1 674.9,76.2 675.2,76.4 675.5,77.0 675.8,78.6 676.1,81.1 676.4,79.6 676.7,81.8 677.0,75.2 677.3,75.3 677.6,79.8 677.9,74.2 678.2,74.1 678.5,81.3 678.8,73.3 679.1,74.0 679.4,70.9 679.7,78.6 680.0,76.0" fill="none" stroke="#c000c0" stroke-width="1.6" stroke-linejoin="round"/>
<polyline points="559.5,116.3 559.8,116.4 560.1,116.4 560.4,115.9 560.7,117.3 561.0,117.5 561.3,117.6 561.6,117.2 561.9,117.1 562.2,116.5 562.5,116.4 562.8,116.5 563.1,117.0 563.4,116.9 563.7,116.1 564.0,116.0 564.3,116.4 564.6,116.7 564.9,115.7 565.2,116.7 565.5,116.2 565.8,115.8 566.1,116.5 566.4,116.1 566.7,117.1 567.0,116.1 567.3,116.3 567.6,117.5 567.9,116.4 568.2,117.1 568.5,115.9 568.8,116.8 569.1,116.7 569.4,116.4 569.7,116.7 570.0,116.5 570.3,116.9 570.6,116.2 570.9,116.5 571.2,116.4 571.5,118.2 571.8,116.3 572.2,116.5 572.5,117.6 572.8,116.8 573.1,116.3 573.4,115.9 573.7,117.0 574.0,115.8 574.3,116.5 574.6,115.1 574.9,116.3 575.2,116.1 575.5,116.7 575.8,117.3 576.1,116.1 576.4,115.9 576.7,115.5 577.0,115.8 577.3,116.7 577.6,117.6 577.9,117.2 578.2,117.1 578.5,117.2 578.8,116.4 579.1,116.3 579.4,116.7 579.7,116.5 580.0,116.6 580.3,116.5 580.6,116.1 580.9,115.9 581.2,116.8 581.5,117.5 581.8,116.0 582.1,116.3 582.4,115.8 582.7,117.4 583.0,117.0 583.3,116.7 583.6,117.5 583.9,117.1 584.2,116.3 584.5,115.8 584.8,115.4 585.1,116.8 585.4,117.5 585.7,116.5 586.0,116.0 586.3,116.3 586.6,117.3 586.9,116.3 587.2,116.0 587.5,116.1 587.8,116.7 588.1,116.4 588.4,116.1 588.7,116.8 589.0,117.7 589.3,116.7 589.6,116.3 589.9,116.5 590.2,116.0 590.5,116.8 590.8,116.7 591.1,116.8 591.4,116.3 591.7,115.5 592.0,116.5 592.3,115.3 592.6,115.3 592.9,115.8 593.2,116.0 593.5,115.4 593.8,116.4 594.1,116.6 594.4,117.2 594.7,116.4 595.0,115.7 595.3,116.0 595.6,116.2 595.9,116.6 596.2,116.5 596.5,113.7 596.8,105.9 597.1,102.6 597.5,99.6 597.8,94.7 598.1,90.0 598.4,81.3 598.7,74.7 599.0,78.0 599.3,70.7 599.6,67.0 599.9,68.3 600.2,69.4 600.5,66.9 600.8,65.0 601.1,60.4 601.4,60.6 601.7,65.0 602.0,59.8 602.3,64.6 602.6,58.6 602.9,64.2 603.2,64.5 603.5,65.2 603.8,64.6 604.1,59.1 604.4,59.3 604.7,60.4 605.0,61.8 605.3,68.1 605.6,66.7 605.9,66.7 606.2,68.3 606.5,64.4 606.8,67.4 607.1,68.2 607.4,69.7 607.7,73.2 608.0,66.5 608.3,62.8 608.6,65.6 608.9,69.8 609.2,76.1 609.5,69.5 609.8,65.1 610.1,66.9 610.4,65.7 610.7,64.1 611.0,64.9 611.3,69.8 611.6,67.1 611.9,67.4 612.2,74.2 612.5,73.0 612.8,75.7 613.1,74.0 613.4,72.8 613.7,77.9 614.0,82.7 614.3,76.2 614.6,78.0 614.9,76.8 615.2,84.4 615.5,81.3 615.8,79.0 616.1,79.5 616.4,85.5 616.7,86.8 617.0,88.8 617.3,87.7 617.6,88.1 617.9,91.1 618.2,95.6 618.5,92.8 618.8,94.9 619.1,93.7 619.4,94.6 619.7,92.6 620.0,93.5 620.3,97.2 620.6,97.1 620.9,94.8 621.2,99.0 621.5,98.7 621.8,97.7 622.1,97.8 622.5,99.6 622.8,103.7 623.1,104.7 623.4,102.5 623.7,101.9 624.0,98.2 624.3,103.3 624.6,101.3 624.9,101.7 625.2,106.1 625.5,105.9 625.8,104.4 626.1,105.3 626.4,105.1 626.7,104.2 627.0,106.3 627.3,104.9 627.6,106.5 627.9,106.9 628.2,105.5 628.5,107.1 628.8,106.3 629.1,104.0 629.4,106.0 629.7,106.8 630.0,105.7 630.3,107.2 630.6,105.3 630.9,108.6 631.2,106.5 631.5,107.8 631.8,108.6 632.1,104.8 632.4,108.0 632.7,104.8 633.0,105.8 633.3,104.8 633.6,108.4 633.9,106.0 634.2,105.0 634.5,107.3 634.8,107.9 635.1,104.1 635.4,106.8 635.7,108.4 636.0,109.2 636.3,107.7 636.6,107.6 636.9,107.9 637.2,98.0 637.5,93.9 637.8,93.7 638.1,92.2 638.4,97.2 638.7,94.9 639.0,93.3 639.3,99.4 639.6,100.1 639.9,100.1 640.2,101.5 640.5,97.3 640.8,100.6 641.1,96.7 641.4,93.8 641.7,98.9 642.0,97.5 642.3,100.1 642.6,95.4 642.9,97.1 643.2,96.4 643.5,95.5 643.8,94.2 644.1,95.3 644.4,94.5 644.7,95.2 645.0,93.7 645.3,95.7 645.6,93.4 645.9,96.7 646.2,94.2 646.5,88.3 646.8,90.4 647.1,93.4 647.5,90.7 647.8,92.4 648.1,94.0 648.4,92.1 648.7,88.2 649.0,87.7 649.3,88.3 649.6,90.0 649.9,90.5 650.2,84.9 650.5,85.7 650.8,88.3 651.1,91.4 651.4,90.2 651.7,80.7 652.0,86.4 652.3,85.1 652.6,83.8 652.9,84.1 653.2,84.1 653.5,86.5 653.8,86.0 654.1,79.0 654.4,82.9 654.7,79.7 655.0,84.8 655.3,82.3 655.6,80.1 655.9,77.3 656.2,82.0 656.5,78.8 656.8,78.4 657.1,81.0 657.4,78.5 657.7,81.3 658.0,81.6 658.3,79.6 658.6,85.9 658.9,80.7 659.2,81.6 659.5,82.9 659.8,80.5 660.1,76.7 660.4,78.7 660.7,74.8 661.0,80.0 661.3,81.6 661.6,74.5 661.9,75.6 662.2,74.3 662.5,78.5 662.8,75.2 663.1,75.7 663.4,74.7 663.7,76.0 664.0,73.1 664.3,77.2 664.6,78.9 664.9,80.6 665.2,74.1 665.5,77.5 665.8,79.1 666.1,79.2 666.4,77.9 666.7,79.7 667.0,77.6 667.3,77.9 667.6,77.8 667.9,78.8 668.2,76.4 668.5,77.1 668.8,75.7 669.1,75.0 669.4,74.6 669.7,81.1 670.0,78.4 670.3,78.3 670.6,74.2 670.9,79.3 671.2,78.3 671.5,76.9 671.8,76.7 672.1,73.0 672.5,75.9 672.8,72.9 673.1,78.6 673.4,80.9 673.7,73.4 674.0,73.6 674.3,73.4 674.6,74.4 674.9,73.6 675.2,77.9 675.5,73.2 675.8,76.0 676.1,72.6 676.4,74.1 676.7,79.9 677.0,79.6 677.3,73.0 677.6,74.7 677.9,75.8 678.2,74.3 678.5,75.7 678.8,76.4 679.1,74.8 679.4,74.2 679.7,70.4 680.0,73.4" fill="none" stroke="#c000c0" stroke-width="1.6" stroke-linejoin="round"/>
<polyline points="559.5,115.4 559.8,115.2 560.1,115.2 560.4,115.6 560.7,116.2 561.0,116.4 561.3,116.6 561.6,117.0 561.9,116.7 562.2,117.0 562.5,115.7 562.8,116.0 563.1,116.7 563.4,117.7 563.7,116.9 564.0,116.9 564.3,117.3 564.6,117.4 564.9,118.1 565.2,116.6 565.5,116.6 565.8,115.0 566.1,116.2 566.4,116.5 566.7,115.7 567.0,116.2 567.3,116.4 567.6,116.7 567.9,117.0 568.2,115.7 568.5,115.7 568.8,115.3 569.1,116.4 569.4,116.5 569.7,117.1 570.0,116.1 570.3,117.3 570.6,116.4 570.9,115.8 571.2,115.5 571.5,116.9 571.8,116.0 572.2,116.8 572.5,117.1 572.8,117.5 573.1,116.1 573.4,115.4 573.7,116.6 574.0,117.0 574.3,116.9 574.6,115.1 574.9,115.6 575.2,116.6 575.5,117.6 575.8,117.2 576.1,116.0 576.4,115.3 576.7,116.4 577.0,116.9 577.3,116.9 577.6,117.8 577.9,116.3 578.2,117.1 578.5,116.1 578.8,117.4 579.1,117.5 579.4,116.6 579.7,117.0 580.0,116.2 580.3,116.5 580.6,117.2 580.9,116.3 581.2,116.0 581.5,117.6 581.8,115.7 582.1,116.0 582.4,116.0 582.7,117.5 583.0,117.2 583.3,116.9 583.6,116.0 583.9,117.3 584.2,117.3 584.5,117.9 584.8,117.0 585.1,116.5 585.4,117.5 585.7,117.1 586.0,116.4 586.3,115.6 586.6,115.9 586.9,116.6 587.2,117.3 587.5,117.3 587.8,117.1 588.1,116.6 588.4,116.6 588.7,115.6 589.0,116.1 589.3,117.1 589.6,115.8 589.9,115.8 590.2,116.3 590.5,116.9 590.8,117.8 591.1,117.5 591.4,116.2 591.7,116.9 592.0,117.4 592.3,116.7 592.6,116.4 592.9,116.2 593.2,116.1 593.5,115.6 593.8,116.8 594.1,116.0 594.4,117.0 594.7,116.2 595.0,116.4 595.3,116.4 595.6,115.9 595.9,116.4 596.2,115.8 596.5,109.8 596.8,105.7 597.1,102.2 597.5,98.0 597.8,92.7 598.1,86.8 598.4,81.1 598.7,67.8 599.0,69.0 599.3,66.9 599.6,69.0 599.9,67.1 600.2,63.4 600.5,60.2 600.8,62.3 601.1,53.2 601.4,57.0 601.7,51.4 602.0,62.5 602.3,58.0 602.6,56.5 602.9,56.9 603.2,56.2 603.5,57.2 603.8,58.1 604.1,65.2 604.4,63.4 604.7,68.4 605.0,60.5 605.3,59.8 605.6,61.5 605.9,64.1 606.2,64.2 606.5,57.0 606.8,55.7 607.1,61.2 607.4,58.7 607.7,67.1 608.0,70.5 608.3,67.1 608.6,67.7 608.9,67.1 609.2,64.9 609.5,56.1 609.8,65.2 610.1,65.5 610.4,65.2 610.7,66.3 611.0,63.9 611.3,61.1 611.6,69.5 611.9,67.8 612.2,68.8 612.5,67.5 612.8,72.9 613.1,76.1 613.4,79.5 613.7,73.5 614.0,74.0 614.3,75.6 614.6,83.4 614.9,81.2 615.2,82.7 615.5,85.4 615.8,85.7 616.1,82.8 616.4,83.3 616.7,85.6 617.0,85.8 617.3,89.3 617.6,89.5 617.9,90.5 618.2,90.5 618.5,92.2 618.8,93.2 619.1,93.9 619.4,95.5 619.7,90.6 620.0,93.3 620.3,94.6 620.6,91.8 620.9,93.4 621.2,99.8 621.5,97.6 621.8,97.3 622.1,95.8 622.5,97.0 622.8,98.7 623.1,102.7 623.4,103.3 623.7,101.7 624.0,101.0 624.3,103.7 624.6,103.5 624.9,103.6 625.2,103.1 625.5,102.6 625.8,103.8 626.1,105.9 626.4,102.4 626.7,101.1 627.0,103.9 627.3,102.9 627.6,103.8 627.9,103.8 628.2,104.3 628.5,106.7 628.8,105.3 629.1,104.2 629.4,107.1 629.7,103.3 630.0,102.2 630.3,102.4 630.6,102.2 630.9,104.2 631.2,106.5 631.5,107.5 631.8,108.2 632.1,106.9 632.4,106.9 632.7,105.8 633.0,109.8 633.3,104.1 633.6,102.7 633.9,106.1 634.2,105.9 634.5,106.2 634.8,106.6 635.1,107.5 635.4,107.7 635.7,108.9 636.0,107.7 636.3,107.7 636.6,107.2 636.9,109.0 637.2,100.6 637.5,92.8 637.8,92.3 638.1,96.0 638.4,94.4 638.7,93.4 639.0,94.4 639.3,97.0 639.6,97.6 639.9,97.1 640.2,95.0 640.5,92.7 640.8,95.3 641.1,96.8 641.4,95.0 641.7,94.8 642.0,96.8 642.3,96.8 642.6,95.4 642.9,93.4 643.2,96.5 643.5,96.7 643.8,93.6 644.1,96.0 644.4,93.6 644.7,92.2 645.0,92.4 645.3,94.1 645.6,92.2 645.9,92.0 646.2,90.3 646.5,92.0 646.8,88.0 647.1,92.7 647.5,90.3 647.8,89.0 648.1,86.3 648.4,88.8 648.7,86.5 649.0,88.2 649.3,85.3 649.6,82.0 649.9,85.8 650.2,84.5 650.5,87.0 650.8,82.9 651.1,81.0 651.4,83.0 651.7,86.0 652.0,82.8 652.3,79.9 652.6,79.0 652.9,79.1 653.2,85.3 653.5,83.7 653.8,77.8 654.1,82.6 654.4,77.7 654.7,74.2 655.0,75.8 655.3,75.0 655.6,78.2 655.9,81.0 656.2,78.8 656.5,78.4 656.8,77.8 657.1,75.6 657.4,77.1 657.7,76.5 658.0,75.7 658.3,76.5 658.6,71.8 658.9,74.1 659.2,75.5 659.5,76.6 659.8,77.8 660.1,72.8 660.4,74.6 660.7,78.2 661.0,77.7 661.3,76.3 661.6,76.7 661.9,72.6 662.2,77.4 662.5,74.1 662.8,74.1 663.1,77.6 663.4,75.1 663.7,74.7 664.0,72.9 664.3,74.9 664.6,73.3 664.9,78.1 665.2,77.7 665.5,72.6 665.8,70.5 666.1,72.9 666.4,75.0 666.7,71.0 667.0,78.6 667.3,76.9 667.6,72.5 667.9,71.4 668.2,75.7 668.5,79.1 668.8,70.8 669.1,72.3 669.4,75.5 669.7,73.6 670.0,70.9 670.3,79.7 670.6,71.7 670.9,70.7 671.2,78.2 671.5,72.2 671.8,77.7 672.1,71.0 672.5,71.4 672.8,66.4 673.1,72.9 673.4,72.9 673.7,70.0 674.0,73.9 674.3,75.0 674.6,74.3 674.9,73.3 675.2,75.8 675.5,72.1 675.8,71.0 676.1,72.0 676.4,67.7 676.7,72.2 677.0,68.8 677.3,73.0 677.6,70.5 677.9,77.2 678.2,73.0 678.5,72.9 678.8,73.8 679.1,74.3 679.4,73.7 679.7,74.5 680.0,78.8" fill="none" stroke="#c000c0" stroke-width="1.6" stroke-linejoin="round"/>
<polyline points="559.5,113.8 559.8,114.2 560.1,114.2 560.4,116.2 560.7,113.3 561.0,109.2 561.3,112.0 561.6,112.1 561.9,110.6 562.2,110.6 562.5,110.6 562.8,110.4 563.1,111.6 563.4,111.8 563.7,110.8 564.0,111.9 564.3,111.8 564.6,111.4 564.9,111.3 565.2,111.8 565.5,110.9 565.8,111.6 566.1,111.0 566.4,110.6 566.7,110.8 567.0,110.8 567.3,112.4 567.6,113.0 567.9,112.5 568.2,111.5 568.5,110.4 568.8,112.4 569.1,111.6 569.4,112.4 569.7,112.5 570.0,112.1 570.3,111.2 570.6,111.4 570.9,110.6 571.2,112.2 571.5,111.1 571.8,110.7 572.2,111.4 572.5,111.2 572.8,112.0 573.1,112.7 573.4,112.3 573.7,112.4 574.0,109.4 574.3,111.5 574.6,110.2 574.9,111.1 575.2,111.3 575.5,110.9 575.8,112.1 576.1,111.0 576.4,111.2 576.7,112.8 577.0,111.4 577.3,111.1 577.6,111.2 577.9,110.2 578.2,111.6 578.5,111.2 578.8,110.9 579.1,112.2 579.4,110.8 579.7,112.7 580.0,113.0 580.3,111.6 580.6,112.6 580.9,112.0 581.2,113.1 581.5,112.0 581.8,112.7 582.1,111.6 582.4,112.9 582.7,111.6 583.0,111.9 583.3,111.7 583.6,111.7 583.9,111.6 584.2,112.7 584.5,114.1 584.8,112.2 585.1,112.6 585.4,112.3 585.7,111.5 586.0,113.3 586.3,112.7 586.6,112.4 586.9,112.7 587.2,111.7 587.5,111.8 587.8,112.4 588.1,112.7 588.4,111.2 588.7,112.1 589.0,111.3 589.3,111.2 589.6,113.1 589.9,112.9 590.2,112.0 590.5,111.5 590.8,111.0 591.1,110.8 591.4,110.6 591.7,111.7 592.0,111.9 592.3,111.1 592.6,111.9 592.9,110.8 593.2,112.8 593.5,111.4 593.8,111.7 594.1,113.3 594.4,111.3 594.7,111.3 595.0,111.6 595.3,112.5 595.6,112.3 595.9,110.5 596.2,112.1 596.5,114.7 596.8,113.1 597.1,113.0 597.5,112.1 597.8,112.1 598.1,112.5 598.4,112.6 598.7,111.0 599.0,112.7 599.3,110.3 599.6,111.8 599.9,112.6 600.2,111.2 600.5,111.1 600.8,112.4 601.1,111.2 601.4,113.1 601.7,112.8 602.0,111.0 602.3,111.7 602.6,112.8 602.9,111.5 603.2,110.9 603.5,111.5 603.8,113.1 604.1,112.3 604.4,111.5 604.7,111.0 605.0,109.9 605.3,111.4 605.6,112.0 605.9,111.8 606.2,110.7 606.5,112.2 606.8,110.7 607.1,113.7 607.4,111.5 607.7,112.2 608.0,111.4 608.3,111.0 608.6,112.5 608.9,111.9 609.2,111.5 609.5,111.1 609.8,112.3 610.1,112.7 610.4,113.5 610.7,110.0 611.0,111.4 611.3,111.8 611.6,113.0 611.9,111.2 612.2,112.0 612.5,110.5 612.8,110.7 613.1,111.4 613.4,111.0 613.7,112.4 614.0,112.1 614.3,112.3 614.6,112.9 614.9,112.0 615.2,111.9 615.5,110.5 615.8,114.2 616.1,112.9 616.4,112.7 616.7,112.3 617.0,111.5 617.3,111.3 617.6,111.5 617.9,112.0 618.2,111.3 618.5,111.3 618.8,113.1 619.1,112.2 619.4,113.0 619.7,113.0 620.0,111.9 620.3,111.7 620.6,111.6 620.9,112.4 621.2,112.0 621.5,112.5 621.8,111.6 622.1,111.1 622.5,110.0 622.8,110.2 623.1,112.0 623.4,112.1 623.7,112.6 624.0,111.6 624.3,110.0 624.6,110.6 624.9,113.3 625.2,113.1 625.5,113.1 625.8,111.6 626.1,111.6 626.4,111.4 626.7,110.1 627.0,112.0 627.3,112.5 627.6,110.2 627.9,111.0 628.2,112.2 628.5,113.5 628.8,113.4 629.1,114.2 629.4,112.2 629.7,111.8 630.0,110.9 630.3,111.6 630.6,112.2 630.9,112.4 631.2,110.3 631.5,112.8 631.8,111.8 632.1,111.7 632.4,111.1 632.7,111.9 633.0,111.3 633.3,110.9 633.6,111.6 633.9,112.0 634.2,111.9 634.5,112.5 634.8,112.1 635.1,112.0 635.4,111.6 635.7,110.5 636.0,110.3 636.3,111.7 636.6,111.2 636.9,111.3 637.2,110.9 637.5,111.5 637.8,111.4 638.1,112.0 638.4,112.4 638.7,111.1 639.0,110.4 639.3,110.8 639.6,111.1 639.9,111.3 640.2,111.9 640.5,113.2 640.8,111.5 641.1,111.5 641.4,112.1 641.7,112.6 642.0,110.8 642.3,113.0 642.6,110.5 642.9,110.8 643.2,109.5 643.5,111.7 643.8,111.7 644.1,112.1 644.4,111.6 644.7,111.8 645.0,112.3 645.3,110.9 645.6,112.1 645.9,112.2 646.2,111.3 646.5,112.0 646.8,112.1 647.1,111.5 647.5,111.9 647.8,112.8 648.1,112.0 648.4,111.9 648.7,110.3 649.0,112.2 649.3,111.0 649.6,112.2 649.9,112.1 650.2,112.0 650.5,111.5 650.8,110.9 651.1,110.0 651.4,111.8 651.7,110.6 652.0,110.6 652.3,110.7 652.6,112.1 652.9,111.0 653.2,111.6 653.5,111.3 653.8,111.8 654.1,111.1 654.4,110.6 654.7,110.4 655.0,111.5 655.3,110.8 655.6,110.2 655.9,112.1 656.2,110.5 656.5,112.5 656.8,111.4 657.1,111.1 657.4,110.3 657.7,111.1 658.0,111.9 658.3,112.4 658.6,112.9 658.9,111.3 659.2,111.8 659.5,112.3 659.8,111.4 660.1,112.2 660.4,112.2 660.7,112.2 661.0,110.4 661.3,110.1 661.6,111.4 661.9,112.9 662.2,111.7 662.5,111.6 662.8,111.4 663.1,111.1 663.4,111.8 663.7,110.9 664.0,110.8 664.3,111.3 664.6,111.9 664.9,112.1 665.2,111.2 665.5,112.5 665.8,112.0 666.1,112.4 666.4,113.0 666.7,111.5 667.0,111.6 667.3,111.6 667.6,110.9 667.9,112.7 668.2,112.0 668.5,111.5 668.8,110.9 669.1,112.4 669.4,111.2 669.7,111.4 670.0,110.4 670.3,110.4 670.6,110.9 670.9,109.7 671.2,111.2 671.5,111.9 671.8,112.0 672.1,112.5 672.5,111.9 672.8,113.3 673.1,112.1 673.4,111.4 673.7,110.8 674.0,111.7 674.3,110.5 674.6,111.9 674.9,111.8 675.2,113.3 675.5,112.7 675.8,112.6 676.1,110.7 676.4,111.0 676.7,112.4 677.0,111.4 677.3,111.2 677.6,111.7 677.9,111.7 678.2,111.9 678.5,112.2 678.8,113.2 679.1,112.1 679.4,110.7 679.7,110.3 680.0,111.5" fill="none" stroke="#808080" stroke-width="1.9" stroke-linejoin="round"/>
<polyline points="559.5,115.8 559.8,114.5 560.1,110.3 560.4,111.1 560.7,114.7 561.0,112.2 561.3,113.6 561.6,112.7 561.9,113.3 562.2,114.4 562.5,113.4 562.8,112.5 563.1,113.9 563.4,113.4 563.7,112.5 564.0,113.2 564.3,113.7 564.6,111.6 564.9,112.0 565.2,112.0 565.5,113.6 565.8,111.9 566.1,114.2 566.4,113.8 566.7,112.7 567.0,111.9 567.3,113.6 567.6,113.8 567.9,113.1 568.2,114.7 568.5,113.0 568.8,112.6 569.1,113.3 569.4,112.7 569.7,112.4 570.0,112.7 570.3,112.6 570.6,111.7 570.9,113.1 571.2,113.0 571.5,113.5 571.8,112.4 572.2,113.2 572.5,112.7 572.8,112.9 573.1,113.0 573.4,111.7 573.7,112.8 574.0,111.9 574.3,112.1 574.6,111.8 574.9,112.9 575.2,112.3 575.5,112.3 575.8,113.4 576.1,113.0 576.4,113.2 576.7,113.1 577.0,112.1 577.3,113.4 577.6,114.5 577.9,114.9 578.2,113.9 578.5,113.8 578.8,113.3 579.1,112.7 579.4,111.6 579.7,112.5 580.0,112.6 580.3,113.6 580.6,112.7 580.9,111.9 581.2,111.7 581.5,114.3 581.8,112.7 582.1,111.7 582.4,112.1 582.7,114.1 583.0,113.6 583.3,112.7 583.6,112.7 583.9,113.7 584.2,114.0 584.5,112.5 584.8,114.0 585.1,112.2 585.4,112.9 585.7,112.8 586.0,114.1 586.3,113.8 586.6,112.7 586.9,114.2 587.2,111.7 587.5,113.9 587.8,114.3 588.1,113.4 588.4,112.8 588.7,112.4 589.0,113.2 589.3,113.3 589.6,113.3 589.9,113.6 590.2,115.3 590.5,112.9 590.8,112.8 591.1,112.9 591.4,113.6 591.7,113.0 592.0,113.1 592.3,113.2 592.6,112.2 592.9,114.3 593.2,113.2 593.5,114.0 593.8,113.6 594.1,112.0 594.4,113.7 594.7,113.3 595.0,113.6 595.3,112.5 595.6,113.7 595.9,114.6 596.2,113.1 596.5,113.4 596.8,113.4 597.1,112.3 597.5,113.6 597.8,113.5 598.1,113.1 598.4,112.8 598.7,113.4 599.0,112.3 599.3,111.1 599.6,112.9 599.9,111.5 600.2,114.4 600.5,112.3 600.8,113.2 601.1,113.0 601.4,113.4 601.7,113.7 602.0,114.3 602.3,113.7 602.6,112.2 602.9,112.0 603.2,113.1 603.5,113.5 603.8,113.8 604.1,114.2 604.4,111.9 604.7,112.3 605.0,112.8 605.3,113.4 605.6,114.0 605.9,112.3 606.2,112.3 606.5,113.7 606.8,112.4 607.1,113.8 607.4,112.8 607.7,113.8 608.0,113.6 608.3,112.8 608.6,112.7 608.9,112.2 609.2,113.5 609.5,111.9 609.8,111.7 610.1,112.8 610.4,112.6 610.7,113.6 611.0,113.4 611.3,114.2 611.6,113.3 611.9,113.0 612.2,112.0 612.5,112.1 612.8,112.2 613.1,113.2 613.4,113.3 613.7,113.4 614.0,113.0 614.3,114.6 614.6,112.9 614.9,114.3 615.2,113.8 615.5,113.3 615.8,113.6 616.1,111.9 616.4,112.9 616.7,111.8 617.0,111.8 617.3,113.2 617.6,112.8 617.9,112.0 618.2,113.1 618.5,113.0 618.8,113.5 619.1,113.2 619.4,113.4 619.7,113.1 620.0,112.3 620.3,111.8 620.6,112.7 620.9,112.8 621.2,112.3 621.5,113.1 621.8,114.0 622.1,112.4 622.5,113.7 622.8,112.5 623.1,113.7 623.4,111.8 623.7,113.6 624.0,112.5 624.3,111.7 624.6,113.5 624.9,112.0 625.2,113.5 625.5,114.6 625.8,112.9 626.1,112.5 626.4,113.1 626.7,115.1 627.0,113.7 627.3,113.5 627.6,113.5 627.9,113.4 628.2,114.6 628.5,113.9 628.8,111.9 629.1,111.5 629.4,113.0 629.7,113.7 630.0,112.9 630.3,112.2 630.6,112.3 630.9,113.8 631.2,113.2 631.5,113.0 631.8,111.9 632.1,111.8 632.4,112.4 632.7,111.9 633.0,113.1 633.3,111.9 633.6,113.1 633.9,112.8 634.2,112.3 634.5,113.6 634.8,113.8 635.1,114.7 635.4,113.4 635.7,113.2 636.0,113.4 636.3,112.8 636.6,114.7 636.9,113.5 637.2,113.1 637.5,113.3 637.8,112.5 638.1,111.5 638.4,113.1 638.7,113.9 639.0,113.8 639.3,113.2 639.6,112.7 639.9,113.7 640.2,112.4 640.5,113.8 640.8,112.6 641.1,112.6 641.4,112.6 641.7,111.2 642.0,112.8 642.3,113.2 642.6,112.7 642.9,112.3 643.2,114.0 643.5,113.1 643.8,113.7 644.1,112.7 644.4,111.9 644.7,112.8 645.0,113.1 645.3,113.0 645.6,115.5 645.9,113.1 646.2,112.6 646.5,112.9 646.8,113.4 647.1,113.8 647.5,113.4 647.8,112.2 648.1,113.0 648.4,112.0 648.7,114.9 649.0,113.9 649.3,113.1 649.6,113.1 649.9,114.4 650.2,114.0 650.5,112.3 650.8,113.9 651.1,114.1 651.4,114.2 651.7,113.8 652.0,112.8 652.3,112.5 652.6,114.6 652.9,112.3 653.2,113.4 653.5,113.6 653.8,111.9 654.1,112.9 654.4,114.0 654.7,113.9 655.0,113.9 655.3,114.1 655.6,113.6 655.9,112.5 656.2,112.7 656.5,114.1 656.8,111.1 657.1,113.4 657.4,113.1 657.7,113.1 658.0,112.5 658.3,113.2 658.6,112.8 658.9,111.3 659.2,112.6 659.5,113.8 659.8,113.0 660.1,113.7 660.4,113.6 660.7,113.1 661.0,112.8 661.3,113.3 661.6,112.5 661.9,113.1 662.2,114.2 662.5,112.7 662.8,113.3 663.1,112.2 663.4,113.4 663.7,112.7 664.0,112.7 664.3,115.2 664.6,114.8 664.9,114.4 665.2,112.3 665.5,114.4 665.8,112.7 666.1,112.1 666.4,112.5 666.7,112.4 667.0,113.3 667.3,113.2 667.6,112.9 667.9,112.7 668.2,112.4 668.5,113.1 668.8,113.7 669.1,113.7 669.4,112.9 669.7,114.4 670.0,114.4 670.3,113.8 670.6,113.7 670.9,113.5 671.2,115.3 671.5,113.9 671.8,113.5 672.1,112.6 672.5,114.6 672.8,113.7 673.1,112.9 673.4,112.6 673.7,112.0 674.0,112.0 674.3,113.7 674.6,112.7 674.9,113.3 675.2,113.8 675.5,112.0 675.8,113.3 676.1,113.9 676.4,113.6 676.7,113.9 677.0,112.5 677.3,112.6 677.6,111.9 677.9,112.5 678.2,113.4 678.5,112.3 678.8,113.4 679.1,113.6 679.4,113.4 679.7,113.1 680.0,112.1" fill="none" stroke="#808080" stroke-width="1.9" stroke-linejoin="round"/>
<polyline points="559.5,116.7 559.8,113.8 560.1,114.5 560.4,118.9 560.7,119.5 561.0,116.5 561.3,113.6 561.6,114.2 561.9,114.1 562.2,114.4 562.5,114.9 562.8,114.3 563.1,115.3 563.4,115.8 563.7,115.1 564.0,115.8 564.3,115.3 564.6,115.3 564.9,115.2 565.2,114.7 565.5,115.2 565.8,115.1 566.1,116.1 566.4,114.8 566.7,115.3 567.0,114.4 567.3,116.8 567.6,115.8 567.9,114.6 568.2,116.5 568.5,115.3 568.8,114.7 569.1,114.5 569.4,115.7 569.7,114.7 570.0,114.4 570.3,115.3 570.6,114.1 570.9,114.5 571.2,114.5 571.5,114.9 571.8,114.2 572.2,114.4 572.5,113.6 572.8,113.9 573.1,114.9 573.4,114.8 573.7,113.9 574.0,114.7 574.3,114.3 574.6,114.0 574.9,114.6 575.2,116.4 575.5,114.9 575.8,114.5 576.1,114.4 576.4,115.1 576.7,113.7 577.0,114.4 577.3,115.0 577.6,115.2 577.9,114.4 578.2,115.4 578.5,115.6 578.8,113.2 579.1,113.1 579.4,113.3 579.7,113.1 580.0,113.7 580.3,115.7 580.6,113.9 580.9,113.4 581.2,113.8 581.5,116.0 581.8,113.9 582.1,113.3 582.4,114.6 582.7,114.5 583.0,113.9 583.3,114.4 583.6,113.6 583.9,114.2 584.2,113.9 584.5,114.3 584.8,115.7 585.1,115.6 585.4,112.2 585.7,113.7 586.0,113.3 586.3,113.3 586.6,112.8 586.9,113.7 587.2,114.8 587.5,114.6 587.8,116.1 588.1,115.1 588.4,113.9 588.7,116.2 589.0,114.8 589.3,113.9 589.6,113.3 589.9,115.0 590.2,115.2 590.5,116.2 590.8,115.8 591.1,114.4 591.4,112.8 591.7,115.0 592.0,113.5 592.3,113.9 592.6,114.8 592.9,112.8 593.2,116.2 593.5,115.0 593.8,114.5 594.1,112.8 594.4,112.6 594.7,112.2 595.0,113.8 595.3,113.6 595.6,113.2 595.9,113.8 596.2,114.1 596.5,114.6 596.8,114.9 597.1,115.6 597.5,113.2 597.8,114.6 598.1,116.2 598.4,114.8 598.7,114.6 599.0,114.4 599.3,113.0 599.6,114.2 599.9,114.7 600.2,115.2 600.5,114.7 600.8,114.9 601.1,114.5 601.4,112.0 601.7,113.6 602.0,115.0 602.3,113.1 602.6,113.5 602.9,113.6 603.2,113.7 603.5,113.7 603.8,113.8 604.1,113.2 604.4,113.4 604.7,113.1 605.0,114.6 605.3,114.6 605.6,115.1 605.9,113.9 606.2,113.7 606.5,114.7 606.8,114.1 607.1,112.3 607.4,113.0 607.7,115.1 608.0,114.7 608.3,114.1 608.6,114.5 608.9,114.2 609.2,113.5 609.5,114.0 609.8,115.3 610.1,114.1 610.4,114.5 610.7,114.4 611.0,115.0 611.3,115.8 611.6,115.9 611.9,115.2 612.2,115.6 612.5,117.0 612.8,114.2 613.1,115.4 613.4,115.4 613.7,114.3 614.0,116.5 614.3,113.9 614.6,115.0 614.9,114.1 615.2,114.8 615.5,114.4 615.8,114.4 616.1,114.5 616.4,116.0 616.7,116.1 617.0,115.0 617.3,113.5 617.6,114.7 617.9,114.1 618.2,114.3 618.5,114.1 618.8,113.6 619.1,115.5 619.4,114.6 619.7,114.7 620.0,114.8 620.3,115.3 620.6,115.4 620.9,115.6 621.2,115.7 621.5,112.8 621.8,112.7 622.1,114.1 622.5,113.8 622.8,115.2 623.1,117.0 623.4,116.6 623.7,114.9 624.0,113.5 624.3,114.3 624.6,115.3 624.9,114.9 625.2,115.5 625.5,115.9 625.8,115.1 626.1,115.0 626.4,115.3 626.7,115.5 627.0,115.5 627.3,114.6 627.6,113.4 627.9,114.4 628.2,112.7 628.5,115.4 628.8,114.5 629.1,115.5 629.4,114.9 629.7,114.5 630.0,114.1 630.3,113.5 630.6,114.7 630.9,115.6 631.2,115.0 631.5,114.4 631.8,115.1 632.1,113.9 632.4,113.0 632.7,115.3 633.0,114.4 633.3,113.7 633.6,115.9 633.9,114.7 634.2,114.8 634.5,115.8 634.8,113.8 635.1,114.2 635.4,114.8 635.7,114.3 636.0,113.9 636.3,113.8 636.6,113.9 636.9,114.0 637.2,115.4 637.5,115.1 637.8,114.6 638.1,116.8 638.4,113.4 638.7,114.6 639.0,115.4 639.3,116.2 639.6,114.8 639.9,114.6 640.2,115.0 640.5,115.0 640.8,115.4 641.1,115.4 641.4,114.8 641.7,115.1 642.0,114.1 642.3,114.6 642.6,114.4 642.9,114.2 643.2,113.4 643.5,113.8 643.8,114.2 644.1,114.6 644.4,115.2 644.7,115.0 645.0,114.1 645.3,114.2 645.6,114.8 645.9,115.7 646.2,116.1 646.5,114.7 646.8,113.7 647.1,114.0 647.5,115.5 647.8,115.0 648.1,114.5 648.4,115.3 648.7,114.4 649.0,114.7 649.3,115.3 649.6,115.7 649.9,114.2 650.2,114.2 650.5,115.2 650.8,115.5 651.1,114.1 651.4,113.9 651.7,114.6 652.0,113.3 652.3,114.5 652.6,115.4 652.9,113.9 653.2,114.5 653.5,114.3 653.8,114.4 654.1,115.3 654.4,115.7 654.7,115.0 655.0,113.5 655.3,115.1 655.6,113.6 655.9,114.1 656.2,115.3 656.5,114.5 656.8,114.1 657.1,115.2 657.4,116.4 657.7,114.7 658.0,115.5 658.3,114.4 658.6,116.1 658.9,115.0 659.2,115.3 659.5,115.9 659.8,115.1 660.1,114.5 660.4,115.0 660.7,115.6 661.0,114.6 661.3,116.0 661.6,114.5 661.9,114.1 662.2,113.1 662.5,113.4 662.8,114.0 663.1,114.2 663.4,114.4 663.7,115.6 664.0,113.6 664.3,113.9 664.6,114.6 664.9,115.5 665.2,113.6 665.5,113.9 665.8,115.3 666.1,114.2 666.4,112.9 666.7,114.1 667.0,114.1 667.3,114.8 667.6,115.1 667.9,113.8 668.2,111.8 668.5,113.8 668.8,114.4 669.1,113.9 669.4,114.6 669.7,114.0 670.0,113.7 670.3,115.2 670.6,115.6 670.9,114.9 671.2,113.9 671.5,114.2 671.8,113.4 672.1,115.4 672.5,114.3 672.8,115.0 673.1,114.6 673.4,114.3 673.7,115.3 674.0,114.9 674.3,115.6 674.6,114.6 674.9,115.2 675.2,115.1 675.5,114.5 675.8,115.1 676.1,113.7 676.4,114.9 676.7,113.9 677.0,114.2 677.3,115.3 677.6,114.9 677.9,115.3 678.2,115.0 678.5,114.9 678.8,113.1 679.1,114.5 679.4,113.3 679.7,113.9 680.0,115.4" fill="none" stroke="#808080" stroke-width="1.9" stroke-linejoin="round"/>
<polyline points="559.5,124.2 559.8,115.6 560.1,122.9 560.4,115.2 560.7,112.1 561.0,113.6 561.3,116.1 561.6,116.2 561.9,115.8 562.2,116.2 562.5,116.5 562.8,116.4 563.1,115.1 563.4,116.3 563.7,115.7 564.0,116.9 564.3,116.8 564.6,117.3 564.9,116.5 565.2,115.5 565.5,115.6 565.8,116.3 566.1,115.6 566.4,116.2 566.7,115.7 567.0,115.7 567.3,115.5 567.6,117.9 567.9,117.5 568.2,115.7 568.5,116.0 568.8,114.2 569.1,115.7 569.4,116.4 569.7,114.9 570.0,115.2 570.3,114.2 570.6,115.1 570.9,115.9 571.2,115.4 571.5,116.5 571.8,116.5 572.2,116.6 572.5,116.3 572.8,115.4 573.1,116.2 573.4,115.8 573.7,116.3 574.0,115.3 574.3,118.1 574.6,116.7 574.9,116.0 575.2,116.9 575.5,115.4 575.8,115.7 576.1,114.9 576.4,114.9 576.7,115.2 577.0,115.9 577.3,116.8 577.6,116.4 577.9,116.5 578.2,115.9 578.5,116.3 578.8,113.6 579.1,116.7 579.4,115.2 579.7,116.2 580.0,116.2 580.3,115.3 580.6,115.8 580.9,116.9 581.2,115.9 581.5,116.1 581.8,117.7 582.1,116.2 582.4,116.9 582.7,116.8 583.0,115.8 583.3,115.7 583.6,116.1 583.9,114.3 584.2,115.2 584.5,116.3 584.8,115.9 585.1,116.0 585.4,117.8 585.7,117.7 586.0,117.5 586.3,114.7 586.6,115.8 586.9,116.2 587.2,116.5 587.5,115.3 587.8,115.8 588.1,114.5 588.4,115.0 588.7,114.4 589.0,115.7 589.3,115.6 589.6,116.2 589.9,116.2 590.2,117.4 590.5,116.8 590.8,117.0 591.1,116.8 591.4,115.2 591.7,115.6 592.0,114.9 592.3,115.0 592.6,115.0 592.9,114.9 593.2,116.2 593.5,115.4 593.8,116.1 594.1,116.4 594.4,115.1 594.7,114.0 595.0,116.3 595.3,114.6 595.6,115.0 595.9,116.4 596.2,115.9 596.5,115.6 596.8,115.6 597.1,116.2 597.5,117.1 597.8,116.2 598.1,115.3 598.4,115.2 598.7,115.2 599.0,114.9 599.3,116.5 599.6,116.1 599.9,115.7 600.2,115.1 600.5,115.6 600.8,115.5 601.1,115.7 601.4,114.2 601.7,117.3 602.0,116.3 602.3,114.1 602.6,115.3 602.9,117.3 603.2,116.2 603.5,117.2 603.8,116.8 604.1,116.0 604.4,114.6 604.7,115.3 605.0,115.3 605.3,115.0 605.6,115.6 605.9,116.6 606.2,116.2 606.5,115.8 606.8,116.1 607.1,116.6 607.4,116.4 607.7,117.3 608.0,117.1 608.3,116.3 608.6,116.4 608.9,116.0 609.2,114.9 609.5,115.5 609.8,115.9 610.1,116.9 610.4,117.1 610.7,115.9 611.0,116.7 611.3,115.8 611.6,116.8 611.9,116.1 612.2,116.1 612.5,115.2 612.8,116.1 613.1,116.3 613.4,115.9 613.7,115.9 614.0,114.6 614.3,115.8 614.6,116.4 614.9,116.3 615.2,115.7 615.5,115.7 615.8,115.4 616.1,116.9 616.4,114.2 616.7,114.0 617.0,115.5 617.3,116.8 617.6,116.1 617.9,115.7 618.2,117.7 618.5,116.4 618.8,117.3 619.1,115.9 619.4,114.8 619.7,114.9 620.0,116.9 620.3,115.1 620.6,115.0 620.9,116.0 621.2,115.6 621.5,114.7 621.8,115.9 622.1,116.0 622.5,116.4 622.8,115.2 623.1,117.5 623.4,115.2 623.7,116.6 624.0,115.4 624.3,117.1 624.6,117.0 624.9,116.7 625.2,115.5 625.5,117.2 625.8,115.8 626.1,116.4 626.4,115.1 626.7,116.0 627.0,115.6 627.3,116.0 627.6,114.5 627.9,115.9 628.2,116.0 628.5,114.4 628.8,115.5 629.1,115.3 629.4,116.4 629.7,115.9 630.0,117.8 630.3,116.3 630.6,116.6 630.9,117.3 631.2,117.5 631.5,115.4 631.8,115.5 632.1,117.1 632.4,114.8 632.7,116.2 633.0,116.3 633.3,115.9 633.6,116.9 633.9,117.5 634.2,117.0 634.5,115.3 634.8,115.0 635.1,117.0 635.4,115.3 635.7,115.8 636.0,115.5 636.3,115.8 636.6,115.6 636.9,116.7 637.2,116.9 637.5,116.8 637.8,116.5 638.1,115.6 638.4,116.9 638.7,114.9 639.0,116.2 639.3,116.5 639.6,115.5 639.9,115.5 640.2,116.1 640.5,116.9 640.8,117.0 641.1,117.5 641.4,115.4 641.7,115.0 642.0,114.2 642.3,115.1 642.6,115.5 642.9,115.2 643.2,115.0 643.5,115.9 643.8,115.7 644.1,114.2 644.4,116.9 644.7,117.3 645.0,117.1 645.3,115.6 645.6,114.9 645.9,116.0 646.2,115.4 646.5,115.9 646.8,115.7 647.1,116.3 647.5,116.1 647.8,116.0 648.1,115.1 648.4,113.9 648.7,116.9 649.0,115.8 649.3,115.9 649.6,115.2 649.9,114.9 650.2,115.1 650.5,115.1 650.8,116.5 651.1,117.5 651.4,115.0 651.7,114.8 652.0,116.4 652.3,115.0 652.6,115.2 652.9,117.8 653.2,115.7 653.5,116.7 653.8,115.2 654.1,116.3 654.4,116.7 654.7,117.4 655.0,116.5 655.3,115.3 655.6,116.3 655.9,117.6 656.2,114.6 656.5,114.1 656.8,115.0 657.1,116.2 657.4,117.0 657.7,117.6 658.0,115.9 658.3,114.9 658.6,116.6 658.9,116.1 659.2,116.2 659.5,116.3 659.8,115.6 660.1,114.2 660.4,116.0 660.7,115.3 661.0,114.9 661.3,115.9 661.6,116.1 661.9,117.1 662.2,115.4 662.5,116.3 662.8,116.6 663.1,116.1 663.4,116.7 663.7,117.0 664.0,116.5 664.3,114.9 664.6,115.9 664.9,115.5 665.2,117.1 665.5,117.8 665.8,115.0 666.1,116.0 666.4,117.2 666.7,116.4 667.0,115.6 667.3,117.3 667.6,117.0 667.9,116.0 668.2,116.7 668.5,115.5 668.8,115.1 669.1,115.4 669.4,116.2 669.7,116.1 670.0,116.5 670.3,116.2 670.6,115.8 670.9,116.2 671.2,115.2 671.5,113.7 671.8,115.8 672.1,115.7 672.5,115.2 672.8,115.3 673.1,116.0 673.4,116.4 673.7,115.3 674.0,115.3 674.3,115.4 674.6,116.5 674.9,115.6 675.2,115.2 675.5,115.9 675.8,115.4 676.1,114.1 676.4,117.0 676.7,115.7 677.0,116.9 677.3,117.3 677.6,116.5 677.9,115.7 678.2,115.9 678.5,116.9 678.8,117.4 679.1,116.8 679.4,116.2 679.7,116.7 680.0,117.4" fill="none" stroke="#808080" stroke-width="1.9" stroke-linejoin="round"/>
<polyline points="559.5,110.6 559.8,118.2 560.1,117.7 560.4,119.0 560.7,119.4 561.0,117.3 561.3,118.0 561.6,116.4 561.9,117.7 562.2,118.2 562.5,115.6 562.8,116.6 563.1,116.1 563.4,115.7 563.7,116.1 564.0,116.6 564.3,118.0 564.6,118.4 564.9,116.4 565.2,116.1 565.5,116.2 565.8,118.0 566.1,118.8 566.4,118.2 566.7,118.1 567.0,117.0 567.3,117.7 567.6,115.7 567.9,117.0 568.2,117.3 568.5,116.2 568.8,116.4 569.1,117.4 569.4,116.3 569.7,115.1 570.0,117.4 570.3,117.1 570.6,117.8 570.9,118.6 571.2,116.7 571.5,116.2 571.8,115.9 572.2,116.2 572.5,118.3 572.8,117.2 573.1,117.4 573.4,117.9 573.7,118.0 574.0,116.5 574.3,117.0 574.6,115.2 574.9,116.0 575.2,118.2 575.5,116.4 575.8,115.7 576.1,116.5 576.4,117.7 576.7,115.6 577.0,117.6 577.3,117.1 577.6,118.4 577.9,118.2 578.2,118.5 578.5,116.3 578.8,115.7 579.1,116.9 579.4,117.9 579.7,117.1 580.0,116.6 580.3,118.0 580.6,118.0 580.9,117.2 581.2,116.3 581.5,116.6 581.8,116.4 582.1,117.7 582.4,119.1 582.7,117.1 583.0,117.6 583.3,117.1 583.6,117.2 583.9,116.5 584.2,117.4 584.5,115.8 584.8,116.5 585.1,116.3 585.4,116.2 585.7,115.8 586.0,116.2 586.3,118.1 586.6,117.6 586.9,115.5 587.2,116.1 587.5,116.2 587.8,116.3 588.1,117.2 588.4,117.5 588.7,117.5 589.0,116.0 589.3,116.3 589.6,115.2 589.9,116.0 590.2,115.0 590.5,116.0 590.8,117.6 591.1,115.6 591.4,116.2 591.7,115.7 592.0,116.3 592.3,117.0 592.6,116.7 592.9,117.7 593.2,118.0 593.5,117.8 593.8,117.5 594.1,118.1 594.4,117.2 594.7,116.7 595.0,115.1 595.3,114.9 595.6,116.4 595.9,116.0 596.2,116.8 596.5,116.5 596.8,116.7 597.1,117.2 597.5,116.8 597.8,118.0 598.1,116.7 598.4,117.0 598.7,117.8 599.0,117.3 599.3,116.5 599.6,117.3 599.9,116.5 600.2,116.3 600.5,115.4 600.8,117.3 601.1,117.0 601.4,116.4 601.7,115.5 602.0,116.2 602.3,116.0 602.6,117.8 602.9,117.5 603.2,115.6 603.5,116.7 603.8,115.0 604.1,117.0 604.4,117.1 604.7,118.2 605.0,116.6 605.3,116.5 605.6,115.1 605.9,116.2 606.2,116.9 606.5,118.0 606.8,117.2 607.1,116.1 607.4,116.0 607.7,115.6 608.0,115.8 608.3,116.6 608.6,116.2 608.9,116.5 609.2,117.8 609.5,115.6 609.8,116.2 610.1,117.5 610.4,116.7 610.7,116.5 611.0,115.9 611.3,115.4 611.6,119.0 611.9,116.9 612.2,115.5 612.5,117.3 612.8,118.5 613.1,117.0 613.4,116.6 613.7,116.4 614.0,117.6 614.3,117.4 614.6,116.8 614.9,116.2 615.2,114.8 615.5,116.1 615.8,117.1 616.1,118.8 616.4,116.4 616.7,115.0 617.0,115.0 617.3,115.8 617.6,114.5 617.9,116.3 618.2,115.2 618.5,114.9 618.8,114.7 619.1,113.8 619.4,114.7 619.7,114.8 620.0,114.2 620.3,116.1 620.6,115.5 620.9,115.0 621.2,114.2 621.5,115.4 621.8,114.4 622.1,114.5 622.5,116.1 622.8,116.5 623.1,116.5 623.4,115.2 623.7,114.8 624.0,114.3 624.3,114.1 624.6,115.2 624.9,114.1 625.2,114.1 625.5,114.3 625.8,114.4 626.1,115.9 626.4,114.9 626.7,115.8 627.0,116.2 627.3,115.5 627.6,115.0 627.9,115.0 628.2,115.2 628.5,115.9 628.8,115.0 629.1,115.6 629.4,116.3 629.7,115.2 630.0,113.8 630.3,115.0 630.6,115.9 630.9,114.0 631.2,113.3 631.5,114.8 631.8,115.1 632.1,114.8 632.4,112.4 632.7,114.2 633.0,113.9 633.3,114.3 633.6,116.3 633.9,116.2 634.2,116.3 634.5,114.9 634.8,114.9 635.1,113.4 635.4,114.8 635.7,114.7 636.0,114.8 636.3,114.8 636.6,113.0 636.9,114.2 637.2,113.5 637.5,113.5 637.8,115.1 638.1,114.4 638.4,115.1 638.7,114.9 639.0,114.8 639.3,114.9 639.6,115.3 639.9,113.7 640.2,114.9 640.5,114.3 640.8,113.4 641.1,114.0 641.4,113.9 641.7,113.5 642.0,113.7 642.3,113.2 642.6,115.7 642.9,113.5 643.2,114.6 643.5,116.3 643.8,115.8 644.1,116.3 644.4,115.3 644.7,116.3 645.0,116.1 645.3,115.0 645.6,114.8 645.9,115.6 646.2,115.3 646.5,115.1 646.8,114.9 647.1,115.0 647.5,115.1 647.8,114.3 648.1,116.1 648.4,115.7 648.7,115.0 649.0,115.3 649.3,115.5 649.6,115.5 649.9,114.9 650.2,113.9 650.5,114.8 650.8,115.1 651.1,114.7 651.4,115.1 651.7,116.6 652.0,115.1 652.3,115.3 652.6,115.5 652.9,114.6 653.2,114.8 653.5,115.4 653.8,116.9 654.1,116.9 654.4,115.4 654.7,115.2 655.0,114.6 655.3,114.7 655.6,115.3 655.9,116.1 656.2,116.2 656.5,115.4 656.8,116.0 657.1,114.6 657.4,116.0 657.7,116.7 658.0,115.6 658.3,116.6 658.6,114.0 658.9,115.5 659.2,115.1 659.5,115.2 659.8,115.7 660.1,116.6 660.4,116.9 660.7,114.7 661.0,114.0 661.3,112.9 661.6,115.7 661.9,114.7 662.2,114.9 662.5,114.2 662.8,115.2 663.1,114.4 663.4,114.1 663.7,114.2 664.0,113.5 664.3,114.7 664.6,113.6 664.9,115.2 665.2,113.6 665.5,116.9 665.8,115.4 666.1,115.7 666.4,115.1 666.7,114.1 667.0,114.1 667.3,114.7 667.6,113.4 667.9,115.8 668.2,115.9 668.5,113.9 668.8,114.4 669.1,116.6 669.4,115.1 669.7,116.0 670.0,114.0 670.3,113.7 670.6,115.1 670.9,113.9 671.2,115.4 671.5,114.3 671.8,114.3 672.1,114.9 672.5,116.1 672.8,115.5 673.1,117.0 673.4,115.9 673.7,116.8 674.0,114.4 674.3,115.6 674.6,117.2 674.9,115.0 675.2,114.7 675.5,115.3 675.8,113.3 676.1,113.9 676.4,114.6 676.7,115.4 677.0,117.6 677.3,115.2 677.6,114.2 677.9,115.3 678.2,116.2 678.5,115.3 678.8,116.4 679.1,115.3 679.4,114.4 679.7,113.5 680.0,114.4" fill="none" stroke="#808080" stroke-width="1.9" stroke-linejoin="round"/>
<polyline points="559.5,116.7 559.8,114.5 560.1,111.6 560.4,117.1 560.7,121.8 561.0,121.4 561.3,123.0 561.6,118.5 561.9,117.8 562.2,117.2 562.5,117.2 562.8,117.3 563.1,117.7 563.4,117.1 563.7,116.6 564.0,116.6 564.3,115.9 564.6,117.3 564.9,117.6 565.2,116.0 565.5,116.9 565.8,116.9 566.1,117.6 566.4,116.6 566.7,117.6 567.0,118.3 567.3,117.7 567.6,117.9 567.9,116.8 568.2,117.6 568.5,117.4 568.8,117.6 569.1,117.2 569.4,117.9 569.7,116.6 570.0,118.4 570.3,118.0 570.6,118.2 570.9,117.1 571.2,117.3 571.5,117.0 571.8,117.6 572.2,118.1 572.5,118.5 572.8,118.0 573.1,118.0 573.4,117.3 573.7,117.1 574.0,116.5 574.3,117.3 574.6,118.0 574.9,118.5 575.2,117.6 575.5,117.2 575.8,115.7 576.1,116.8 576.4,115.8 576.7,115.4 577.0,117.8 577.3,116.5 577.6,116.2 577.9,116.0 578.2,117.1 578.5,116.5 578.8,117.6 579.1,117.5 579.4,117.4 579.7,115.9 580.0,117.2 580.3,116.6 580.6,117.1 580.9,117.9 581.2,117.3 581.5,116.8 581.8,117.9 582.1,117.0 582.4,117.9 582.7,118.3 583.0,117.4 583.3,117.6 583.6,118.3 583.9,119.0 584.2,117.8 584.5,117.3 584.8,117.8 585.1,117.3 585.4,118.7 585.7,117.4 586.0,117.1 586.3,117.1 586.6,117.9 586.9,117.5 587.2,117.3 587.5,116.5 587.8,117.0 588.1,117.1 588.4,117.9 588.7,116.8 589.0,116.3 589.3,117.5 589.6,116.9 589.9,117.0 590.2,117.4 590.5,118.5 590.8,116.2 591.1,118.7 591.4,117.5 591.7,117.7 592.0,116.5 592.3,117.6 592.6,117.4 592.9,116.9 593.2,116.9 593.5,117.7 593.8,116.9 594.1,117.0 594.4,116.5 594.7,117.6 595.0,117.5 595.3,117.8 595.6,118.2 595.9,117.4 596.2,117.1 596.5,116.1 596.8,117.4 597.1,117.1 597.5,116.4 597.8,117.3 598.1,117.3 598.4,117.3 598.7,118.0 599.0,118.4 599.3,116.7 599.6,117.1 599.9,117.4 600.2,118.5 600.5,117.6 600.8,116.5 601.1,118.1 601.4,118.3 601.7,116.7 602.0,116.0 602.3,115.8 602.6,117.5 602.9,116.9 603.2,117.9 603.5,117.1 603.8,117.6 604.1,117.3 604.4,116.3 604.7,116.8 605.0,117.5 605.3,117.4 605.6,117.2 605.9,117.8 606.2,117.3 606.5,116.9 606.8,116.0 607.1,118.8 607.4,118.8 607.7,118.8 608.0,117.1 608.3,115.4 608.6,116.9 608.9,117.4 609.2,116.8 609.5,119.7 609.8,118.5 610.1,120.8 610.4,118.7 610.7,118.7 611.0,118.8 611.3,118.2 611.6,118.8 611.9,117.7 612.2,118.3 612.5,118.3 612.8,116.5 613.1,118.6 613.4,118.0 613.7,119.4 614.0,118.1 614.3,118.0 614.6,118.8 614.9,118.3 615.2,117.7 615.5,117.8 615.8,119.1 616.1,119.5 616.4,118.7 616.7,120.7 617.0,120.4 617.3,119.5 617.6,119.1 617.9,118.0 618.2,117.8 618.5,118.9 618.8,119.1 619.1,120.6 619.4,120.1 619.7,119.5 620.0,119.8 620.3,119.6 620.6,119.1 620.9,120.3 621.2,120.3 621.5,121.3 621.8,119.1 622.1,120.4 622.5,121.3 622.8,119.4 623.1,119.8 623.4,118.9 623.7,119.8 624.0,117.9 624.3,118.6 624.6,119.3 624.9,119.4 625.2,119.8 625.5,119.0 625.8,117.8 626.1,119.5 626.4,120.5 626.7,119.4 627.0,118.7 627.3,120.6 627.6,120.5 627.9,120.7 628.2,119.4 628.5,119.2 628.8,120.1 629.1,120.7 629.4,119.3 629.7,121.3 630.0,119.5 630.3,119.7 630.6,118.0 630.9,118.4 631.2,119.8 631.5,119.9 631.8,119.9 632.1,120.3 632.4,119.7 632.7,118.8 633.0,120.7 633.3,120.1 633.6,118.5 633.9,118.7 634.2,120.0 634.5,120.4 634.8,120.5 635.1,121.2 635.4,119.0 635.7,119.4 636.0,120.1 636.3,120.9 636.6,120.2 636.9,120.2 637.2,118.3 637.5,119.6 637.8,119.5 638.1,118.7 638.4,118.8 638.7,119.5 639.0,121.4 639.3,118.9 639.6,118.9 639.9,119.8 640.2,119.7 640.5,120.4 640.8,120.5 641.1,121.0 641.4,119.5 641.7,119.1 642.0,119.3 642.3,118.9 642.6,118.9 642.9,119.3 643.2,120.2 643.5,119.2 643.8,118.5 644.1,118.8 644.4,118.3 644.7,119.6 645.0,120.4 645.3,118.7 645.6,119.8 645.9,119.4 646.2,119.7 646.5,119.6 646.8,119.8 647.1,120.0 647.5,121.1 647.8,118.4 648.1,119.1 648.4,121.0 648.7,120.6 649.0,120.7 649.3,120.4 649.6,121.9 649.9,119.6 650.2,118.2 650.5,119.4 650.8,118.9 651.1,118.9 651.4,120.4 651.7,118.7 652.0,120.7 652.3,120.3 652.6,120.0 652.9,118.6 653.2,119.2 653.5,119.5 653.8,120.2 654.1,119.6 654.4,119.5 654.7,118.9 655.0,118.2 655.3,118.6 655.6,119.3 655.9,119.6 656.2,118.2 656.5,119.0 656.8,119.4 657.1,118.0 657.4,117.8 657.7,118.6 658.0,119.4 658.3,120.0 658.6,118.7 658.9,119.7 659.2,118.7 659.5,119.9 659.8,119.5 660.1,119.2 660.4,119.3 660.7,119.2 661.0,119.1 661.3,120.3 661.6,120.6 661.9,119.9 662.2,118.0 662.5,119.1 662.8,120.0 663.1,120.0 663.4,119.4 663.7,118.2 664.0,119.3 664.3,118.7 664.6,118.8 664.9,119.2 665.2,119.7 665.5,119.2 665.8,119.5 666.1,118.5 666.4,120.1 666.7,118.1 667.0,117.8 667.3,117.9 667.6,117.1 667.9,117.6 668.2,119.6 668.5,118.6 668.8,118.0 669.1,118.7 669.4,119.2 669.7,118.0 670.0,117.6 670.3,118.3 670.6,118.2 670.9,118.4 671.2,118.5 671.5,118.0 671.8,116.9 672.1,118.8 672.5,118.2 672.8,116.4 673.1,117.0 673.4,117.3 673.7,116.7 674.0,118.1 674.3,118.5 674.6,119.0 674.9,118.9 675.2,117.4 675.5,116.5 675.8,117.3 676.1,117.7 676.4,116.8 676.7,116.4 677.0,116.6 677.3,118.3 677.6,117.6 677.9,119.0 678.2,117.1 678.5,117.4 678.8,117.3 679.1,115.5 679.4,115.1 679.7,115.7 680.0,116.0" fill="none" stroke="#808080" stroke-width="1.9" stroke-linejoin="round"/>
<line x1="559.50" y1="32.25" x2="559.50" y2="135.50" stroke="#333" stroke-width="1" />
<line x1="554.20" y1="135.50" x2="680.48" y2="135.50" stroke="#333" stroke-width="1" />
<line x1="554.20" y1="135.50" x2="559.50" y2="135.50" stroke="#333" stroke-width="1" />
<text x="546.40" y="139.60" font-size="11.3" font-weight="normal" fill="#1a1a1a" stroke="#1a1a1a" stroke-width="0.22" textLength="5.00" lengthAdjust="spacingAndGlyphs">0</text>
<line x1="554.20" y1="114.95" x2="559.50" y2="114.95" stroke="#333" stroke-width="1" />
<text x="546.40" y="119.05" font-size="11.3" font-weight="normal" fill="#1a1a1a" stroke="#1a1a1a" stroke-width="0.22" textLength="5.00" lengthAdjust="spacingAndGlyphs">1</text>
<line x1="554.20" y1="94.40" x2="559.50" y2="94.40" stroke="#333" stroke-width="1" />
<text x="546.40" y="98.50" font-size="11.3" font-weight="normal" fill="#1a1a1a" stroke="#1a1a1a" stroke-width="0.22" textLength="5.00" lengthAdjust="spacingAndGlyphs">2</text>
<line x1="554.20" y1="73.85" x2="559.50" y2="73.85" stroke="#333" stroke-width="1" />
<text x="546.40" y="77.95" font-size="11.3" font-weight="normal" fill="#1a1a1a" stroke="#1a1a1a" stroke-width="0.22" textLength="5.00" lengthAdjust="spacingAndGlyphs">3</text>
<line x1="554.20" y1="53.30" x2="559.50" y2="53.30" stroke="#333" stroke-width="1" />
<text x="546.40" y="57.40" font-size="11.3" font-weight="normal" fill="#1a1a1a" stroke="#1a1a1a" stroke-width="0.22" textLength="5.00" lengthAdjust="spacingAndGlyphs">4</text>
<line x1="554.20" y1="32.75" x2="559.50" y2="32.75" stroke="#333" stroke-width="1" />
<text x="546.40" y="36.85" font-size="11.3" font-weight="normal" fill="#1a1a1a" stroke="#1a1a1a" stroke-width="0.22" textLength="5.00" lengthAdjust="spacingAndGlyphs">5</text>
<line x1="559.50" y1="135.50" x2="559.50" y2="140.50" stroke="#808080" stroke-width="1.3" />
<line x1="574.56" y1="135.50" x2="574.56" y2="138.50" stroke="#808080" stroke-width="1.3" />
<line x1="589.62" y1="135.50" x2="589.62" y2="140.50" stroke="#808080" stroke-width="1.3" />
<line x1="604.68" y1="135.50" x2="604.68" y2="138.50" stroke="#808080" stroke-width="1.3" />
<line x1="619.74" y1="135.50" x2="619.74" y2="140.50" stroke="#808080" stroke-width="1.3" />
<line x1="634.80" y1="135.50" x2="634.80" y2="138.50" stroke="#808080" stroke-width="1.3" />
<line x1="649.86" y1="135.50" x2="649.86" y2="140.50" stroke="#808080" stroke-width="1.3" />
<line x1="664.92" y1="135.50" x2="664.92" y2="138.50" stroke="#808080" stroke-width="1.3" />
<line x1="679.98" y1="135.50" x2="679.98" y2="140.50" stroke="#808080" stroke-width="1.3" />
<text x="556.85" y="154.40" font-size="11.3" font-weight="normal" fill="#1a1a1a" stroke="#1a1a1a" stroke-width="0.22" textLength="5.30" lengthAdjust="spacingAndGlyphs">0</text>
<text x="584.12" y="154.40" font-size="11.3" font-weight="normal" fill="#1a1a1a" stroke="#1a1a1a" stroke-width="0.22" textLength="11.00" lengthAdjust="spacingAndGlyphs">10</text>
<text x="614.24" y="154.40" font-size="11.3" font-weight="normal" fill="#1a1a1a" stroke="#1a1a1a" stroke-width="0.22" textLength="11.00" lengthAdjust="spacingAndGlyphs">20</text>
<text x="644.36" y="154.40" font-size="11.3" font-weight="normal" fill="#1a1a1a" stroke="#1a1a1a" stroke-width="0.22" textLength="11.00" lengthAdjust="spacingAndGlyphs">30</text>
<text x="674.48" y="154.40" font-size="11.3" font-weight="normal" fill="#1a1a1a" stroke="#1a1a1a" stroke-width="0.22" textLength="11.00" lengthAdjust="spacingAndGlyphs">40</text>
<text x="603.80" y="164.40" font-size="10.2" font-weight="normal" fill="#1a1a1a" stroke="#1a1a1a" stroke-width="0.22" textLength="39.70" lengthAdjust="spacingAndGlyphs">Time (min)</text>
<text transform="translate(541.70,111.20) rotate(-90)" font-size="10.2" font-weight="normal" fill="#1a1a1a" stroke="#1a1a1a" stroke-width="0.22" textLength="60.30" lengthAdjust="spacingAndGlyphs">Normalized fLuc</text>
<rect x="558.55" y="131.85" width="1.90" height="1.90" fill="#000"/>
<rect x="558.55" y="126.46" width="1.90" height="1.90" fill="#000"/>
<rect x="558.55" y="121.07" width="1.90" height="1.90" fill="#000"/>
<rect x="558.55" y="115.68" width="1.90" height="1.90" fill="#000"/>
<rect x="558.55" y="110.29" width="1.90" height="1.90" fill="#000"/>
<rect x="558.55" y="104.90" width="1.90" height="1.90" fill="#000"/>
<rect x="558.55" y="99.51" width="1.90" height="1.90" fill="#000"/>
<rect x="558.55" y="94.12" width="1.90" height="1.90" fill="#000"/>
<rect x="558.55" y="88.73" width="1.90" height="1.90" fill="#000"/>
<rect x="558.55" y="83.34" width="1.90" height="1.90" fill="#000"/>
<rect x="558.55" y="77.95" width="1.90" height="1.90" fill="#000"/>
<rect x="558.55" y="72.56" width="1.90" height="1.90" fill="#000"/>
<rect x="558.55" y="67.17" width="1.90" height="1.90" fill="#000"/>
<rect x="558.55" y="61.78" width="1.90" height="1.90" fill="#000"/>
<rect x="558.55" y="56.39" width="1.90" height="1.90" fill="#000"/>
<rect x="558.55" y="51.00" width="1.90" height="1.90" fill="#000"/>
<rect x="558.55" y="45.61" width="1.90" height="1.90" fill="#000"/>
<rect x="558.55" y="40.22" width="1.90" height="1.90" fill="#000"/>
<rect x="558.55" y="34.83" width="1.90" height="1.90" fill="#000"/>
<rect x="595.95" y="131.85" width="1.90" height="1.90" fill="#000"/>
<rect x="595.95" y="126.46" width="1.90" height="1.90" fill="#000"/>
<rect x="595.95" y="121.07" width="1.90" height="1.90" fill="#000"/>
<rect x="595.95" y="115.68" width="1.90" height="1.90" fill="#000"/>
<rect x="595.95" y="110.29" width="1.90" height="1.90" fill="#000"/>
<rect x="595.95" y="104.90" width="1.90" height="1.90" fill="#000"/>
<rect x="595.95" y="99.51" width="1.90" height="1.90" fill="#000"/>
<rect x="595.95" y="94.12" width="1.90" height="1.90" fill="#000"/>
<rect x="595.95" y="88.73" width="1.90" height="1.90" fill="#000"/>
<rect x="595.95" y="83.34" width="1.90" height="1.90" fill="#000"/>
<rect x="595.95" y="77.95" width="1.90" height="1.90" fill="#000"/>
<rect x="595.95" y="72.56" width="1.90" height="1.90" fill="#000"/>
<rect x="595.95" y="67.17" width="1.90" height="1.90" fill="#000"/>
<rect x="595.95" y="61.78" width="1.90" height="1.90" fill="#000"/>
<rect x="595.95" y="56.39" width="1.90" height="1.90" fill="#000"/>
<rect x="595.95" y="51.00" width="1.90" height="1.90" fill="#000"/>
<rect x="611.65" y="131.85" width="1.90" height="1.90" fill="#000"/>
<rect x="611.65" y="126.46" width="1.90" height="1.90" fill="#000"/>
<rect x="611.65" y="121.07" width="1.90" height="1.90" fill="#000"/>
<rect x="611.65" y="115.68" width="1.90" height="1.90" fill="#000"/>
<rect x="611.65" y="110.29" width="1.90" height="1.90" fill="#000"/>
<rect x="611.65" y="104.90" width="1.90" height="1.90" fill="#000"/>
<rect x="611.65" y="99.51" width="1.90" height="1.90" fill="#000"/>
<rect x="611.65" y="94.12" width="1.90" height="1.90" fill="#000"/>
<rect x="611.65" y="88.73" width="1.90" height="1.90" fill="#000"/>
<rect x="611.65" y="83.34" width="1.90" height="1.90" fill="#000"/>
<rect x="611.65" y="77.95" width="1.90" height="1.90" fill="#000"/>
<rect x="611.65" y="72.56" width="1.90" height="1.90" fill="#000"/>
<rect x="611.65" y="67.17" width="1.90" height="1.90" fill="#000"/>
<rect x="611.65" y="61.78" width="1.90" height="1.90" fill="#000"/>
<rect x="611.65" y="56.39" width="1.90" height="1.90" fill="#000"/>
<rect x="611.65" y="51.00" width="1.90" height="1.90" fill="#000"/>
<rect x="636.35" y="131.85" width="1.90" height="1.90" fill="#000"/>
<rect x="636.35" y="126.46" width="1.90" height="1.90" fill="#000"/>
<rect x="636.35" y="121.07" width="1.90" height="1.90" fill="#000"/>
<rect x="636.35" y="115.68" width="1.90" height="1.90" fill="#000"/>
<rect x="636.35" y="110.29" width="1.90" height="1.90" fill="#000"/>
<rect x="636.35" y="104.90" width="1.90" height="1.90" fill="#000"/>
<rect x="636.35" y="99.51" width="1.90" height="1.90" fill="#000"/>
<rect x="636.35" y="94.12" width="1.90" height="1.90" fill="#000"/>
<rect x="636.35" y="88.73" width="1.90" height="1.90" fill="#000"/>
<rect x="636.35" y="83.34" width="1.90" height="1.90" fill="#000"/>
<rect x="636.35" y="77.95" width="1.90" height="1.90" fill="#000"/>
<rect x="636.35" y="72.56" width="1.90" height="1.90" fill="#000"/>
<rect x="636.35" y="67.17" width="1.90" height="1.90" fill="#000"/>
<rect x="636.35" y="61.78" width="1.90" height="1.90" fill="#000"/>
<rect x="636.35" y="56.39" width="1.90" height="1.90" fill="#000"/>
<rect x="636.35" y="51.00" width="1.90" height="1.90" fill="#000"/>
<line x1="596.90" y1="23.70" x2="596.90" y2="37.10" stroke="#000" stroke-width="1.5" />
<polygon points="592.80,36.60 601.00,36.60 596.90,45.30" fill="#000"/>
<line x1="612.60" y1="23.70" x2="612.60" y2="37.10" stroke="#000" stroke-width="1.5" />
<polygon points="608.50,36.60 616.70,36.60 612.60,45.30" fill="#000"/>
<line x1="637.30" y1="23.70" x2="637.30" y2="37.10" stroke="#000" stroke-width="1.5" />
<polygon points="633.20,36.60 641.40,36.60 637.30,45.30" fill="#000"/>
<text transform="translate(601.00,23.00) rotate(-90)" font-size="10.1" font-weight="normal" fill="#1a1a1a" stroke="#1a1a1a" stroke-width="0.22" textLength="18.70" lengthAdjust="spacingAndGlyphs">COR</text>
<text transform="translate(615.80,18.40) rotate(-90)" font-size="10.1" font-weight="normal" fill="#1a1a1a" stroke="#1a1a1a" stroke-width="0.22" textLength="13.40" lengthAdjust="spacingAndGlyphs">MIF</text>
<text transform="translate(641.70,23.00) rotate(-90)" font-size="10.1" font-weight="normal" fill="#1a1a1a" stroke="#1a1a1a" stroke-width="0.22" textLength="17.50" lengthAdjust="spacingAndGlyphs">COR</text>
<text x="282.20" y="191.30" font-size="16.8" font-weight="bold" fill="#000" stroke="#000" stroke-width="0.22" textLength="7.20" lengthAdjust="spacingAndGlyphs">e</text>
<circle cx="323.50" cy="193.80" r="5.1" fill="#a9a9a9"/>
<circle cx="323.50" cy="206.10" r="5.1" fill="#ff5f00"/>
<text x="331.70" y="197.10" font-size="10.1" font-weight="normal" fill="#1a1a1a" stroke="#1a1a1a" stroke-width="0.22" textLength="55.80" lengthAdjust="spacingAndGlyphs">Non-stimulated</text>
<text x="332.40" y="209.40" font-size="10.1" font-weight="normal" fill="#1a1a1a" stroke="#1a1a1a" stroke-width="0.22" textLength="17.60" lengthAdjust="spacingAndGlyphs">1 µM</text>
<text x="351.80" y="209.40" font-size="9.0" font-weight="normal" fill="#1a1a1a" stroke="#1a1a1a" stroke-width="0.22" textLength="13.50" lengthAdjust="spacingAndGlyphs">EST</text>
<line x1="315.50" y1="208.84" x2="315.50" y2="312.30" stroke="#333" stroke-width="1" />
<line x1="310.60" y1="312.00" x2="377.30" y2="312.00" stroke="#8c8c8c" stroke-width="1.3" />
<line x1="310.60" y1="286.56" x2="315.50" y2="286.56" stroke="#333" stroke-width="1" />
<line x1="310.60" y1="260.82" x2="315.50" y2="260.82" stroke="#333" stroke-width="1" />
<line x1="310.60" y1="235.08" x2="315.50" y2="235.08" stroke="#333" stroke-width="1" />
<line x1="310.60" y1="209.34" x2="315.50" y2="209.34" stroke="#333" stroke-width="1" />
<text x="303.10" y="316.40" font-size="11.3" font-weight="normal" fill="#1a1a1a" stroke="#1a1a1a" stroke-width="0.22" textLength="5.60" lengthAdjust="spacingAndGlyphs">0</text>
<text x="303.10" y="290.66" font-size="11.3" font-weight="normal" fill="#1a1a1a" stroke="#1a1a1a" stroke-width="0.22" textLength="5.60" lengthAdjust="spacingAndGlyphs">2</text>
<text x="303.10" y="264.92" font-size="11.3" font-weight="normal" fill="#1a1a1a" stroke="#1a1a1a" stroke-width="0.22" textLength="5.60" lengthAdjust="spacingAndGlyphs">4</text>
<text x="303.10" y="239.18" font-size="11.3" font-weight="normal" fill="#1a1a1a" stroke="#1a1a1a" stroke-width="0.22" textLength="5.60" lengthAdjust="spacingAndGlyphs">6</text>
<text x="303.10" y="213.44" font-size="11.3" font-weight="normal" fill="#1a1a1a" stroke="#1a1a1a" stroke-width="0.22" textLength="5.60" lengthAdjust="spacingAndGlyphs">8</text>
<line x1="329.60" y1="312.30" x2="329.60" y2="316.60" stroke="#808080" stroke-width="1.3" />
<line x1="363.40" y1="312.30" x2="363.40" y2="316.60" stroke="#808080" stroke-width="1.3" />
<text transform="translate(297.50,263.10) rotate(-90)" font-size="10" font-weight="normal" fill="#1a1a1a" stroke="#1a1a1a" stroke-width="0.22" textLength="15.70" lengthAdjust="spacingAndGlyphs">RLU</text>
<rect x="352.10" y="275.00" width="10.90" height="37.30" fill="#a3a3a6"/>
<rect x="364.00" y="254.10" width="11.00" height="58.20" fill="#ff6600"/>
<line x1="369.30" y1="248.20" x2="369.30" y2="260.60" stroke="#111" stroke-width="0.9" />
<line x1="366.60" y1="248.20" x2="372.00" y2="248.20" stroke="#111" stroke-width="0.9" />
<line x1="366.60" y1="260.60" x2="372.00" y2="260.60" stroke="#111" stroke-width="0.9" />
<line x1="357.50" y1="273.50" x2="357.50" y2="276.80" stroke="#222" stroke-width="0.8" />
<circle cx="369.20" cy="243.60" r="1.3" fill="#000"/>
<circle cx="373.80" cy="251.10" r="1.3" fill="#000"/>
<circle cx="368.70" cy="253.00" r="1.3" fill="#000"/>
<circle cx="364.70" cy="255.60" r="1.3" fill="#000"/>
<circle cx="373.80" cy="256.30" r="1.3" fill="#000"/>
<circle cx="369.20" cy="256.90" r="1.3" fill="#000"/>
<circle cx="368.70" cy="260.20" r="1.3" fill="#000"/>
<circle cx="369.20" cy="263.10" r="1.3" fill="#000"/>
<circle cx="353.20" cy="274.10" r="1.3" fill="#000"/>
<circle cx="355.80" cy="273.80" r="1.3" fill="#000"/>
<circle cx="357.90" cy="273.10" r="1.3" fill="#000"/>
<circle cx="362.00" cy="273.10" r="1.3" fill="#000"/>
<circle cx="357.20" cy="275.30" r="1.3" fill="#000"/>
<circle cx="359.40" cy="275.00" r="1.3" fill="#000"/>
<circle cx="357.70" cy="278.20" r="1.3" fill="#000"/>
<line x1="317.70" y1="312.00" x2="328.50" y2="312.00" stroke="#000" stroke-width="2.0" />
<line x1="330.20" y1="312.00" x2="340.00" y2="312.00" stroke="#000" stroke-width="2.0" />
<text x="355.60" y="222.40" font-size="9" font-weight="normal" fill="#1a1a1a" stroke="#1a1a1a" stroke-width="0.22" font-style="italic" textLength="34.40" lengthAdjust="spacingAndGlyphs">p &lt; 0.0001</text>
<text x="372.00" y="232.70" font-size="10" font-weight="normal" fill="#1a1a1a" stroke="#1a1a1a" stroke-width="0.22" textLength="15.50" lengthAdjust="spacingAndGlyphs">1.7x</text>
<text x="359.50" y="240.60" font-size="12" font-weight="normal" fill="#1a1a1a" stroke="#1a1a1a" stroke-width="0.22" textLength="10.60" lengthAdjust="spacingAndGlyphs">***</text>
<line x1="357.20" y1="238.40" x2="371.60" y2="238.40" stroke="#333" stroke-width="0.9" />
<text x="315.90" y="291.30" font-size="9" font-weight="normal" fill="#1a1a1a" stroke="#1a1a1a" stroke-width="0.22" font-style="italic" textLength="35.20" lengthAdjust="spacingAndGlyphs">p = 0.5668</text>
<text x="326.60" y="301.50" font-size="10" font-weight="normal" fill="#1a1a1a" stroke="#1a1a1a" stroke-width="0.22" textLength="8.60" lengthAdjust="spacingAndGlyphs">ns</text>
<line x1="323.10" y1="305.50" x2="337.80" y2="305.50" stroke="#777" stroke-width="0.8" />
<text x="318.00" y="328.70" font-size="10.1" font-weight="normal" fill="#1a1a1a" stroke="#1a1a1a" stroke-width="0.22" textLength="19.20" lengthAdjust="spacingAndGlyphs">Mock</text>
<text x="344.60" y="328.70" font-size="10.1" font-weight="normal" fill="#1a1a1a" stroke="#1a1a1a" stroke-width="0.22" textLength="36.20" lengthAdjust="spacingAndGlyphs">ERβ:cLuc</text>
<text x="344.00" y="340.80" font-size="10.1" font-weight="normal" fill="#1a1a1a" stroke="#1a1a1a" stroke-width="0.22" textLength="36.20" lengthAdjust="spacingAndGlyphs">nLuc:TIF2</text>
<circle cx="424.40" cy="193.80" r="5.1" fill="#a9a9a9"/>
<circle cx="424.40" cy="206.10" r="5.1" fill="#ff5f00"/>
<text x="432.90" y="197.10" font-size="10.1" font-weight="normal" fill="#1a1a1a" stroke="#1a1a1a" stroke-width="0.22" textLength="55.70" lengthAdjust="spacingAndGlyphs">Non-stimulated</text>
<text x="433.20" y="209.40" font-size="10.1" font-weight="normal" fill="#1a1a1a" stroke="#1a1a1a" stroke-width="0.22" textLength="17.90" lengthAdjust="spacingAndGlyphs">1 µM</text>
<text x="453.00" y="209.40" font-size="9.0" font-weight="normal" fill="#1a1a1a" stroke="#1a1a1a" stroke-width="0.22" textLength="21.30" lengthAdjust="spacingAndGlyphs">4-OHT</text>
<line x1="414.50" y1="208.20" x2="414.50" y2="312.50" stroke="#555" stroke-width="1" />
<line x1="409.80" y1="312.50" x2="457.10" y2="312.50" stroke="#333" stroke-width="1" />
<line x1="409.80" y1="277.90" x2="414.50" y2="277.90" stroke="#333" stroke-width="1" />
<line x1="409.80" y1="243.30" x2="414.50" y2="243.30" stroke="#333" stroke-width="1" />
<line x1="409.80" y1="208.70" x2="414.50" y2="208.70" stroke="#333" stroke-width="1" />
<text x="401.90" y="316.60" font-size="11.3" font-weight="normal" fill="#1a1a1a" stroke="#1a1a1a" stroke-width="0.22" textLength="5.60" lengthAdjust="spacingAndGlyphs">0</text>
<text x="401.90" y="282.00" font-size="11.3" font-weight="normal" fill="#1a1a1a" stroke="#1a1a1a" stroke-width="0.22" textLength="5.60" lengthAdjust="spacingAndGlyphs">2</text>
<text x="401.90" y="247.40" font-size="11.3" font-weight="normal" fill="#1a1a1a" stroke="#1a1a1a" stroke-width="0.22" textLength="5.60" lengthAdjust="spacingAndGlyphs">4</text>
<text x="401.90" y="212.80" font-size="11.3" font-weight="normal" fill="#1a1a1a" stroke="#1a1a1a" stroke-width="0.22" textLength="5.60" lengthAdjust="spacingAndGlyphs">6</text>
<line x1="435.40" y1="312.50" x2="435.40" y2="316.90" stroke="#808080" stroke-width="1.3" />
<rect x="419.00" y="262.70" width="16.00" height="49.80" fill="#a3a3a6"/>
<circle cx="419.70" cy="262.10" r="1.25" fill="#000"/>
<circle cx="422.50" cy="262.50" r="1.25" fill="#000"/>
<circle cx="425.10" cy="259.70" r="1.25" fill="#000"/>
<circle cx="425.10" cy="263.70" r="1.25" fill="#000"/>
<circle cx="429.10" cy="259.10" r="1.25" fill="#000"/>
<circle cx="429.10" cy="264.10" r="1.25" fill="#000"/>
<circle cx="427.10" cy="267.70" r="1.25" fill="#000"/>
<circle cx="431.70" cy="261.70" r="1.25" fill="#000"/>
<circle cx="434.10" cy="262.10" r="1.25" fill="#000"/>
<line x1="437.00" y1="311.40" x2="452.40" y2="311.40" stroke="#000" stroke-width="1.8" />
<text transform="translate(449.30,250.90) rotate(-90)" font-size="10.1" font-weight="normal" fill="#1a1a1a" stroke="#1a1a1a" stroke-width="0.22" textLength="23.80" lengthAdjust="spacingAndGlyphs">4-OHT</text>
<text x="441.50" y="275.40" font-size="10.4" font-weight="normal" fill="#1a1a1a" stroke="#1a1a1a" stroke-width="0.22" textLength="13.50" lengthAdjust="spacingAndGlyphs">65x</text>
<line x1="445.60" y1="281.20" x2="445.60" y2="293.80" stroke="#000" stroke-width="1.7" />
<polygon points="441.30,293.30 449.90,293.30 445.60,301.30" fill="#000"/>
<text x="508.60" y="191.30" font-size="16.8" font-weight="bold" fill="#000" stroke="#000" stroke-width="0.22" textLength="5.70" lengthAdjust="spacingAndGlyphs">f</text>
<rect x="547.60" y="210.25" width="25.70" height="103.25" fill="#d2d2d2"/>
<polygon points="547.6,258.5 548.3,258.9 549.0,260.0 549.7,260.6 550.4,261.7 551.0,261.7 551.7,261.7 552.4,262.3 553.1,262.1 553.8,263.1 554.5,263.5 555.2,264.0 555.9,264.3 556.6,264.2 557.2,264.9 557.9,265.3 558.6,265.5 559.3,265.5 560.0,264.6 560.7,264.8 561.4,265.2 562.1,265.4 562.8,265.6 563.4,265.6 564.1,265.3 564.8,265.4 565.5,265.4 566.2,265.4 566.9,265.3 567.6,265.6 568.3,265.6 569.0,265.3 569.6,265.5 570.3,265.6 571.0,265.7 571.7,266.1 572.4,265.9 573.1,265.6 573.8,265.6 574.5,265.7 575.1,265.4 575.8,265.9 576.5,265.9 577.2,265.8 577.9,265.3 578.6,265.7 579.3,265.9 580.0,266.1 580.7,265.9 581.3,266.0 582.0,266.3 582.7,266.0 583.4,266.5 584.1,266.3 584.8,265.9 585.5,266.0 586.2,266.2 586.9,266.0 587.5,265.8 588.2,266.1 588.9,265.5 589.6,265.8 590.3,266.0 591.0,266.3 591.7,266.1 592.4,266.0 593.1,266.5 593.7,266.5 594.4,266.2 595.1,266.0 595.8,266.2 596.5,266.1 597.2,266.2 597.9,266.5 598.6,266.0 599.3,266.2 599.9,266.1 600.6,265.6 601.3,266.1 602.0,265.8 602.7,266.4 603.4,266.7 604.1,266.1 604.8,266.2 605.5,266.2 606.1,266.0 606.8,266.3 607.5,265.8 608.2,266.4 608.9,266.1 609.6,266.3 610.3,266.5 611.0,266.0 611.7,265.6 612.3,265.9 613.0,266.1 613.7,266.5 614.4,266.0 615.1,265.7 615.8,266.1 616.5,266.2 617.2,266.6 617.9,266.4 618.5,266.4 619.2,266.2 619.9,265.9 620.6,266.5 621.3,266.5 622.0,266.2 622.7,266.0 623.4,265.9 624.1,266.2 624.7,266.0 625.4,265.8 626.1,266.1 626.8,266.1 627.5,266.3 628.2,266.2 628.9,266.4 629.6,266.4 630.2,266.0 630.9,266.0 631.6,266.1 632.3,266.2 633.0,266.4 633.7,266.2 634.4,266.3 635.1,266.3 635.8,266.3 636.4,266.5 637.1,266.7 637.8,266.4 638.5,266.5 639.2,266.7 639.9,266.4 640.6,266.5 641.3,266.6 642.0,266.7 642.6,267.0 643.3,267.2 644.0,266.9 644.7,266.5 645.4,266.5 646.1,267.0 646.8,267.2 647.5,266.7 648.2,266.6 648.8,266.9 649.5,267.0 650.2,267.3 650.9,267.0 651.6,266.4 652.3,267.2 653.0,267.4 653.7,267.1 654.4,266.9 655.0,267.5 655.7,267.4 656.4,267.3 657.1,267.2 657.8,267.5 658.5,267.3 659.2,267.7 659.9,267.3 660.6,267.0 661.2,267.0 661.9,267.1 662.6,267.3 663.3,267.5 664.0,267.2 664.7,267.3 665.4,267.0 666.1,267.0 666.8,266.8 667.4,267.2 668.1,267.5 668.8,267.4 669.5,267.0 670.2,267.5 670.9,267.6 671.6,267.5 672.3,267.6 672.3,275.6 671.6,275.6 670.9,275.5 670.2,275.2 669.5,275.5 668.8,275.4 668.1,275.4 667.4,275.3 666.8,275.1 666.1,274.9 665.4,275.5 664.7,275.0 664.0,275.3 663.3,275.0 662.6,274.4 661.9,274.7 661.2,275.0 660.6,275.1 659.9,275.1 659.2,274.7 658.5,274.4 657.8,274.4 657.1,274.8 656.4,274.6 655.7,274.5 655.0,274.4 654.4,274.2 653.7,274.2 653.0,273.7 652.3,274.2 651.6,274.0 650.9,273.8 650.2,274.5 649.5,274.4 648.8,274.0 648.2,274.0 647.5,273.9 646.8,273.5 646.1,273.9 645.4,273.4 644.7,273.6 644.0,273.4 643.3,273.2 642.6,273.6 642.0,273.4 641.3,273.0 640.6,273.2 639.9,273.1 639.2,273.1 638.5,273.4 637.8,273.5 637.1,273.1 636.4,272.8 635.8,272.6 635.1,272.6 634.4,272.4 633.7,272.2 633.0,272.1 632.3,272.6 631.6,272.2 630.9,272.0 630.2,271.9 629.6,271.7 628.9,272.2 628.2,271.9 627.5,272.1 626.8,272.3 626.1,272.8 625.4,272.4 624.7,272.0 624.1,272.3 623.4,272.4 622.7,272.4 622.0,271.6 621.3,271.7 620.6,271.9 619.9,272.1 619.2,271.8 618.5,271.8 617.9,272.3 617.2,272.5 616.5,272.3 615.8,272.0 615.1,271.9 614.4,271.9 613.7,272.1 613.0,272.5 612.3,272.3 611.7,272.1 611.0,272.0 610.3,272.4 609.6,272.3 608.9,272.3 608.2,272.0 607.5,272.4 606.8,272.1 606.1,272.8 605.5,272.6 604.8,272.3 604.1,271.5 603.4,271.2 602.7,272.1 602.0,272.3 601.3,272.6 600.6,272.0 599.9,272.1 599.3,272.3 598.6,271.9 597.9,271.6 597.2,272.0 596.5,271.8 595.8,272.0 595.1,272.1 594.4,272.2 593.7,272.2 593.1,272.0 592.4,271.7 591.7,271.6 591.0,271.8 590.3,271.3 589.6,271.5 588.9,271.9 588.2,272.0 587.5,272.1 586.9,271.7 586.2,272.6 585.5,272.0 584.8,272.2 584.1,272.0 583.4,272.2 582.7,271.9 582.0,271.6 581.3,271.6 580.7,271.8 580.0,271.9 579.3,271.9 578.6,271.5 577.9,271.4 577.2,271.9 576.5,271.3 575.8,271.2 575.1,271.6 574.5,271.3 573.8,271.2 573.1,271.1 572.4,271.2 571.7,271.5 571.0,271.4 570.3,271.2 569.6,271.1 569.0,271.2 568.3,271.0 567.6,271.1 566.9,270.8 566.2,271.0 565.5,271.0 564.8,270.9 564.1,270.9 563.4,270.8 562.8,270.5 562.1,270.0 561.4,269.9 560.7,270.1 560.0,269.5 559.3,269.3 558.6,269.1 557.9,268.9 557.2,268.6 556.6,268.5 555.9,268.3 555.2,268.1 554.5,267.7 553.8,267.4 553.1,266.7 552.4,266.2 551.7,265.5 551.0,265.3 550.4,265.1 549.7,263.8 549.0,263.2 548.3,262.4 547.6,261.4" fill="#828282" stroke="#828282" stroke-width="0.6" stroke-linejoin="round"/>
<polygon points="547.6,270.6 548.3,270.9 549.0,270.9 549.7,270.8 550.4,271.2 551.0,271.1 551.7,271.0 552.4,271.1 553.1,271.1 553.8,271.2 554.5,271.4 555.2,271.0 555.9,270.9 556.6,271.0 557.2,271.3 557.9,271.4 558.6,271.4 559.3,271.2 560.0,271.3 560.7,270.9 561.4,270.8 562.1,270.9 562.8,270.7 563.4,270.9 564.1,270.6 564.8,270.5 565.5,270.5 566.2,270.6 566.9,270.4 567.6,270.4 568.3,270.7 569.0,270.4 569.6,270.5 570.3,270.3 571.0,270.6 571.7,270.8 572.4,270.4 573.1,270.2 573.8,270.4 574.5,270.3 575.1,270.0 575.8,269.6 576.5,269.6 577.2,269.2 577.9,270.0 578.6,270.1 579.3,270.3 580.0,270.1 580.7,270.2 581.3,269.9 582.0,269.9 582.7,269.9 583.4,270.0 584.1,269.6 584.8,269.9 585.5,270.1 586.2,270.2 586.9,269.6 587.5,269.8 588.2,269.9 588.9,269.8 589.6,269.5 590.3,269.8 591.0,269.9 591.7,269.9 592.4,270.1 593.1,269.8 593.7,270.1 594.4,269.9 595.1,270.0 595.8,270.2 596.5,270.3 597.2,269.8 597.9,270.0 598.6,269.9 599.3,270.2 599.9,270.1 600.6,269.9 601.3,270.0 602.0,270.0 602.7,270.2 603.4,269.8 604.1,269.5 604.8,269.7 605.5,270.1 606.1,269.5 606.8,269.6 607.5,269.6 608.2,269.8 608.9,269.6 609.6,270.1 610.3,270.2 611.0,270.2 611.7,270.2 612.3,270.1 613.0,270.0 613.7,269.7 614.4,270.2 615.1,270.1 615.8,269.4 616.5,269.2 617.2,269.8 617.9,269.7 618.5,270.4 619.2,270.2 619.9,269.6 620.6,269.9 621.3,270.1 622.0,270.0 622.7,270.1 623.4,270.4 624.1,270.3 624.7,270.4 625.4,270.1 626.1,269.4 626.8,269.7 627.5,269.4 628.2,269.6 628.9,269.9 629.6,270.0 630.2,270.3 630.9,270.1 631.6,270.0 632.3,269.5 633.0,269.6 633.7,269.8 634.4,270.0 635.1,270.0 635.8,269.7 636.4,270.1 637.1,270.2 637.8,270.0 638.5,270.0 639.2,269.8 639.9,269.8 640.6,269.8 641.3,270.0 642.0,269.9 642.6,270.3 643.3,270.3 644.0,270.1 644.7,270.2 645.4,269.7 646.1,269.7 646.8,270.1 647.5,270.1 648.2,270.0 648.8,269.9 649.5,269.7 650.2,269.9 650.9,269.9 651.6,270.2 652.3,270.1 653.0,270.1 653.7,269.5 654.4,269.5 655.0,269.6 655.7,269.9 656.4,269.4 657.1,269.7 657.8,270.0 658.5,270.1 659.2,269.9 659.9,269.8 660.6,269.7 661.2,269.6 661.9,269.6 662.6,269.5 663.3,270.0 664.0,269.6 664.7,269.7 665.4,270.3 666.1,270.0 666.8,270.0 667.4,269.7 668.1,269.5 668.8,269.8 669.5,269.8 670.2,270.3 670.9,270.3 671.6,269.7 672.3,270.1 672.3,272.0 671.6,272.0 670.9,271.8 670.2,271.8 669.5,271.6 668.8,272.0 668.1,271.7 667.4,272.1 666.8,272.5 666.1,272.0 665.4,272.2 664.7,272.1 664.0,272.1 663.3,272.1 662.6,272.0 661.9,272.0 661.2,271.8 660.6,272.3 659.9,272.1 659.2,271.6 658.5,271.7 657.8,271.7 657.1,271.9 656.4,272.2 655.7,271.9 655.0,272.4 654.4,272.3 653.7,272.4 653.0,272.2 652.3,271.7 651.6,271.7 650.9,272.0 650.2,272.3 649.5,271.8 648.8,271.7 648.2,272.2 647.5,272.2 646.8,272.0 646.1,271.8 645.4,271.8 644.7,272.2 644.0,272.6 643.3,272.1 642.6,272.7 642.0,272.3 641.3,272.1 640.6,272.4 639.9,272.4 639.2,272.1 638.5,272.3 637.8,271.7 637.1,271.8 636.4,272.0 635.8,271.8 635.1,272.0 634.4,271.9 633.7,271.7 633.0,272.0 632.3,272.0 631.6,271.5 630.9,272.3 630.2,272.3 629.6,272.3 628.9,272.0 628.2,272.2 627.5,271.8 626.8,272.3 626.1,272.2 625.4,272.3 624.7,272.1 624.1,271.9 623.4,271.9 622.7,272.0 622.0,272.1 621.3,272.3 620.6,272.2 619.9,272.2 619.2,272.3 618.5,272.0 617.9,271.9 617.2,271.7 616.5,271.7 615.8,271.9 615.1,271.8 614.4,271.4 613.7,271.6 613.0,271.8 612.3,271.8 611.7,271.7 611.0,272.2 610.3,271.9 609.6,272.1 608.9,272.0 608.2,271.9 607.5,271.6 606.8,271.7 606.1,272.0 605.5,272.3 604.8,272.1 604.1,272.0 603.4,272.0 602.7,271.8 602.0,271.4 601.3,271.9 600.6,271.9 599.9,271.9 599.3,272.4 598.6,272.2 597.9,272.4 597.2,272.1 596.5,272.2 595.8,272.2 595.1,272.0 594.4,271.5 593.7,272.2 593.1,272.0 592.4,271.9 591.7,272.4 591.0,272.6 590.3,272.6 589.6,272.5 588.9,272.3 588.2,272.2 587.5,271.6 586.9,272.3 586.2,272.4 585.5,272.5 584.8,272.6 584.1,272.3 583.4,272.0 582.7,272.0 582.0,272.2 581.3,272.0 580.7,272.4 580.0,272.0 579.3,271.9 578.6,271.7 577.9,271.9 577.2,271.9 576.5,272.3 575.8,272.6 575.1,271.9 574.5,272.1 573.8,272.2 573.1,272.1 572.4,272.2 571.7,272.3 571.0,272.4 570.3,272.6 569.6,272.9 569.0,272.4 568.3,272.4 567.6,272.7 566.9,272.6 566.2,272.2 565.5,272.1 564.8,272.3 564.1,271.8 563.4,272.6 562.8,273.3 562.1,273.6 561.4,273.3 560.7,273.4 560.0,273.2 559.3,272.8 558.6,273.1 557.9,273.0 557.2,273.1 556.6,272.9 555.9,272.9 555.2,272.9 554.5,273.0 553.8,273.4 553.1,273.1 552.4,273.3 551.7,273.2 551.0,273.0 550.4,273.4 549.7,273.6 549.0,272.9 548.3,273.0 547.6,273.4" fill="#828282" stroke="#828282" stroke-width="0.6" stroke-linejoin="round"/>
<polygon points="547.6,282.4 548.3,281.7 549.0,281.2 549.7,280.6 550.4,280.1 551.0,279.6 551.7,279.8 552.4,279.4 553.1,279.3 553.8,279.0 554.5,278.8 555.2,278.4 555.9,278.3 556.6,277.7 557.2,277.2 557.9,277.1 558.6,276.7 559.3,277.2 560.0,276.9 560.7,276.7 561.4,276.6 562.1,276.7 562.8,276.5 563.4,276.2 564.1,276.3 564.8,276.1 565.5,276.1 566.2,275.9 566.9,276.5 567.6,276.3 568.3,275.5 569.0,275.5 569.6,275.8 570.3,275.9 571.0,275.8 571.7,275.5 572.4,275.8 573.1,275.8 573.8,275.6 574.5,275.7 575.1,275.4 575.8,276.0 576.5,275.8 577.2,275.5 577.9,275.1 578.6,275.0 579.3,275.1 580.0,275.4 580.7,275.7 581.3,275.3 582.0,275.3 582.7,275.3 583.4,275.3 584.1,275.3 584.8,275.7 585.5,275.3 586.2,275.5 586.9,275.3 587.5,275.8 588.2,275.9 588.9,275.5 589.6,276.1 590.3,275.6 591.0,275.3 591.7,275.4 592.4,275.7 593.1,274.8 593.7,275.0 594.4,275.4 595.1,275.6 595.8,275.6 596.5,275.8 597.2,275.6 597.9,275.5 598.6,275.1 599.3,275.3 599.9,275.3 600.6,275.2 601.3,275.4 602.0,275.3 602.7,275.1 603.4,275.1 604.1,275.1 604.8,275.3 605.5,275.1 606.1,275.5 606.8,275.3 607.5,275.5 608.2,275.4 608.9,275.6 609.6,275.0 610.3,275.3 611.0,275.0 611.7,275.3 612.3,275.1 613.0,275.6 613.7,275.2 614.4,275.0 615.1,274.8 615.8,275.2 616.5,274.9 617.2,274.7 617.9,275.0 618.5,274.8 619.2,275.0 619.9,274.8 620.6,275.2 621.3,275.3 622.0,275.3 622.7,274.6 623.4,274.3 624.1,274.8 624.7,275.0 625.4,274.2 626.1,274.3 626.8,274.1 627.5,274.5 628.2,274.5 628.9,274.4 629.6,274.5 630.2,274.3 630.9,273.7 631.6,274.1 632.3,274.3 633.0,274.4 633.7,274.2 634.4,274.0 635.1,273.7 635.8,273.9 636.4,274.0 637.1,274.0 637.8,273.8 638.5,273.7 639.2,273.2 639.9,273.5 640.6,273.6 641.3,273.3 642.0,274.0 642.6,273.2 643.3,273.2 644.0,273.5 644.7,273.4 645.4,273.5 646.1,273.1 646.8,272.9 647.5,272.7 648.2,272.6 648.8,272.5 649.5,272.2 650.2,272.5 650.9,272.0 651.6,272.2 652.3,272.2 653.0,272.1 653.7,271.5 654.4,271.9 655.0,272.3 655.7,272.0 656.4,272.3 657.1,271.6 657.8,271.4 658.5,271.5 659.2,271.6 659.9,271.6 660.6,271.3 661.2,271.6 661.9,271.6 662.6,271.1 663.3,271.4 664.0,270.8 664.7,271.3 665.4,271.6 666.1,271.4 666.8,271.3 667.4,271.5 668.1,270.9 668.8,271.0 669.5,271.0 670.2,271.1 670.9,271.3 671.6,270.9 672.3,271.2 672.3,278.3 671.6,278.3 670.9,278.0 670.2,277.7 669.5,277.4 668.8,277.9 668.1,278.5 667.4,277.9 666.8,278.0 666.1,277.7 665.4,277.3 664.7,277.9 664.0,277.9 663.3,277.5 662.6,277.7 661.9,277.8 661.2,277.7 660.6,277.9 659.9,277.5 659.2,277.4 658.5,277.5 657.8,277.4 657.1,277.5 656.4,277.8 655.7,277.4 655.0,277.9 654.4,278.4 653.7,278.1 653.0,277.7 652.3,277.6 651.6,277.9 650.9,277.8 650.2,277.9 649.5,277.9 648.8,278.3 648.2,278.5 647.5,278.6 646.8,278.5 646.1,278.0 645.4,278.0 644.7,278.3 644.0,278.4 643.3,278.3 642.6,278.8 642.0,278.5 641.3,278.9 640.6,278.7 639.9,278.5 639.2,278.6 638.5,278.7 637.8,278.6 637.1,278.7 636.4,278.6 635.8,278.6 635.1,278.4 634.4,278.5 633.7,278.8 633.0,278.8 632.3,279.3 631.6,279.1 630.9,279.0 630.2,279.0 629.6,279.0 628.9,278.9 628.2,278.5 627.5,278.6 626.8,279.1 626.1,279.7 625.4,279.6 624.7,279.2 624.1,279.0 623.4,278.5 622.7,278.6 622.0,278.9 621.3,278.9 620.6,279.5 619.9,279.3 619.2,279.4 618.5,279.1 617.9,279.9 617.2,279.3 616.5,279.1 615.8,279.3 615.1,279.6 614.4,279.3 613.7,279.8 613.0,279.4 612.3,279.3 611.7,279.3 611.0,279.6 610.3,279.8 609.6,279.5 608.9,279.3 608.2,279.6 607.5,279.6 606.8,280.0 606.1,279.6 605.5,279.6 604.8,279.4 604.1,279.4 603.4,279.6 602.7,279.8 602.0,279.5 601.3,279.9 600.6,279.6 599.9,279.8 599.3,279.8 598.6,279.7 597.9,279.6 597.2,279.2 596.5,279.2 595.8,279.3 595.1,279.4 594.4,279.7 593.7,279.7 593.1,279.6 592.4,279.7 591.7,279.7 591.0,279.6 590.3,279.7 589.6,279.2 588.9,279.2 588.2,279.1 587.5,279.3 586.9,279.2 586.2,279.2 585.5,279.2 584.8,279.7 584.1,279.8 583.4,279.7 582.7,279.9 582.0,279.7 581.3,279.6 580.7,279.5 580.0,279.6 579.3,279.5 578.6,279.8 577.9,279.3 577.2,279.2 576.5,279.5 575.8,280.1 575.1,279.6 574.5,279.3 573.8,279.4 573.1,279.6 572.4,279.1 571.7,279.4 571.0,279.3 570.3,278.8 569.6,279.6 569.0,279.7 568.3,279.5 567.6,279.7 566.9,279.9 566.2,279.7 565.5,279.4 564.8,280.0 564.1,279.5 563.4,279.6 562.8,280.0 562.1,280.2 561.4,279.9 560.7,280.3 560.0,280.5 559.3,280.7 558.6,280.4 557.9,280.7 557.2,280.6 556.6,280.8 555.9,280.8 555.2,281.6 554.5,282.3 553.8,283.0 553.1,282.5 552.4,283.0 551.7,283.1 551.0,283.7 550.4,284.4 549.7,284.6 549.0,284.9 548.3,285.1 547.6,285.6" fill="#828282" stroke="#828282" stroke-width="0.6" stroke-linejoin="round"/>
<polygon points="547.6,238.9 548.3,242.7 549.0,246.2 549.7,248.3 550.4,250.3 551.0,252.4 551.7,253.7 552.4,254.4 553.1,255.6 553.8,255.8 554.5,256.6 555.2,256.6 555.9,257.7 556.6,258.3 557.2,259.0 557.9,259.4 558.6,259.7 559.3,260.0 560.0,260.3 560.7,260.4 561.4,260.7 562.1,261.4 562.8,261.9 563.4,262.1 564.1,262.4 564.8,262.5 565.5,262.4 566.2,262.9 566.9,262.9 567.6,262.7 568.3,262.8 569.0,263.1 569.6,263.6 570.3,263.4 571.0,263.5 571.7,263.6 572.4,263.8 573.1,264.3 573.8,265.3 574.5,265.8 575.1,266.3 575.8,267.7 576.5,268.8 577.2,269.4 577.9,271.0 578.6,272.2 579.3,273.3 580.0,274.4 580.7,276.0 581.3,277.2 582.0,278.0 582.7,279.4 583.4,280.5 584.1,281.3 584.8,282.1 585.5,283.3 586.2,284.1 586.9,285.4 587.5,285.9 588.2,287.1 588.9,287.5 589.6,288.0 590.3,288.7 591.0,289.3 591.7,289.0 592.4,289.9 593.1,290.7 593.7,291.5 594.4,292.6 595.1,292.9 595.8,292.7 596.5,293.0 597.2,293.6 597.9,294.2 598.6,294.4 599.3,294.6 599.9,295.6 600.6,296.0 601.3,295.9 602.0,296.0 602.7,296.1 603.4,296.3 604.1,296.7 604.8,296.5 605.5,296.8 606.1,297.3 606.8,297.3 607.5,297.1 608.2,296.8 608.9,297.1 609.6,296.8 610.3,296.6 611.0,296.0 611.7,295.7 612.3,295.3 613.0,295.1 613.7,294.2 614.4,294.2 615.1,294.0 615.8,293.7 616.5,293.1 617.2,292.8 617.9,292.5 618.5,292.2 619.2,291.8 619.9,291.3 620.6,290.6 621.3,290.2 622.0,289.9 622.7,289.2 623.4,288.8 624.1,288.3 624.7,287.4 625.4,287.5 626.1,286.7 626.8,286.5 627.5,285.9 628.2,285.5 628.9,284.6 629.6,284.1 630.2,283.6 630.9,282.6 631.6,282.2 632.3,281.6 633.0,281.1 633.7,280.2 634.4,279.6 635.1,279.1 635.8,278.3 636.4,277.8 637.1,277.2 637.8,276.7 638.5,275.8 639.2,274.9 639.9,274.7 640.6,274.1 641.3,273.1 642.0,272.3 642.6,271.8 643.3,271.1 644.0,271.0 644.7,270.1 645.4,268.6 646.1,268.0 646.8,267.2 647.5,266.2 648.2,264.9 648.8,264.0 649.5,262.9 650.2,262.2 650.9,261.1 651.6,260.2 652.3,259.4 653.0,258.0 653.7,257.2 654.4,256.5 655.0,255.6 655.7,254.7 656.4,253.0 657.1,252.2 657.8,251.1 658.5,249.9 659.2,248.3 659.9,247.1 660.6,246.5 661.2,245.5 661.9,244.3 662.6,243.2 663.3,242.1 664.0,241.4 664.7,240.4 665.4,239.2 666.1,238.3 666.8,237.6 667.4,236.6 668.1,235.9 668.8,235.2 669.5,234.7 670.2,234.4 670.9,234.0 671.6,233.7 672.3,232.9 672.3,245.7 671.6,245.4 670.9,246.1 670.2,246.2 669.5,246.2 668.8,246.0 668.1,246.8 667.4,247.2 666.8,248.3 666.1,248.4 665.4,249.1 664.7,249.9 664.0,250.5 663.3,251.0 662.6,251.9 661.9,253.1 661.2,253.6 660.6,254.5 659.9,255.3 659.2,256.5 658.5,257.4 657.8,257.6 657.1,258.7 656.4,260.1 655.7,261.0 655.0,261.7 654.4,262.5 653.7,263.3 653.0,264.3 652.3,265.2 651.6,265.8 650.9,266.7 650.2,267.4 649.5,268.4 648.8,269.5 648.2,270.2 647.5,270.7 646.8,272.0 646.1,273.1 645.4,273.8 644.7,274.4 644.0,275.6 643.3,275.6 642.6,276.3 642.0,277.3 641.3,277.6 640.6,278.2 639.9,278.9 639.2,279.3 638.5,279.9 637.8,280.6 637.1,281.4 636.4,282.0 635.8,282.1 635.1,282.8 634.4,283.4 633.7,283.9 633.0,284.7 632.3,285.3 631.6,285.9 630.9,286.8 630.2,287.5 629.6,288.4 628.9,289.1 628.2,289.8 627.5,289.9 626.8,291.0 626.1,291.0 625.4,291.5 624.7,291.7 624.1,292.2 623.4,292.6 622.7,293.3 622.0,293.5 621.3,294.0 620.6,294.9 619.9,295.7 619.2,295.9 618.5,296.0 617.9,296.2 617.2,296.8 616.5,297.1 615.8,297.4 615.1,297.8 614.4,297.9 613.7,298.5 613.0,299.0 612.3,299.8 611.7,300.3 611.0,300.3 610.3,300.3 609.6,300.6 608.9,300.4 608.2,300.9 607.5,301.2 606.8,301.6 606.1,301.4 605.5,301.3 604.8,300.8 604.1,300.3 603.4,300.1 602.7,300.0 602.0,299.6 601.3,299.5 600.6,299.3 599.9,299.3 599.3,299.3 598.6,298.7 597.9,297.9 597.2,297.8 596.5,297.3 595.8,296.9 595.1,296.3 594.4,296.0 593.7,295.6 593.1,295.0 592.4,294.7 591.7,293.7 591.0,293.2 590.3,292.6 589.6,292.2 588.9,291.5 588.2,290.7 587.5,289.9 586.9,289.1 586.2,288.2 585.5,287.3 584.8,286.6 584.1,286.0 583.4,284.5 582.7,283.4 582.0,282.2 581.3,281.0 580.7,280.2 580.0,278.7 579.3,277.5 578.6,276.4 577.9,275.0 577.2,273.5 576.5,272.3 575.8,271.6 575.1,270.5 574.5,269.7 573.8,269.1 573.1,268.2 572.4,267.7 571.7,267.4 571.0,267.5 570.3,267.8 569.6,267.2 569.0,267.3 568.3,267.2 567.6,267.0 566.9,266.9 566.2,266.6 565.5,266.5 564.8,265.9 564.1,266.0 563.4,265.5 562.8,265.0 562.1,265.0 561.4,264.7 560.7,264.1 560.0,264.2 559.3,264.2 558.6,263.6 557.9,263.0 557.2,262.9 556.6,262.2 555.9,261.5 555.2,260.8 554.5,260.5 553.8,260.4 553.1,259.7 552.4,258.8 551.7,257.4 551.0,256.6 550.4,254.3 549.7,252.5 549.0,250.2 548.3,246.8 547.6,243.4" fill="#ff6600" stroke="#ff6600" stroke-width="0.6" stroke-linejoin="round"/>
<polygon points="547.6,275.8 548.3,275.6 549.0,275.2 549.7,274.9 550.4,274.8 551.0,274.7 551.7,275.0 552.4,274.6 553.1,274.5 553.8,274.5 554.5,273.9 555.2,273.7 555.9,273.8 556.6,274.0 557.2,273.9 557.9,274.0 558.6,274.2 559.3,274.2 560.0,274.0 560.7,274.0 561.4,274.2 562.1,274.0 562.8,274.1 563.4,274.0 564.1,274.0 564.8,273.9 565.5,274.0 566.2,273.9 566.9,274.0 567.6,274.0 568.3,273.9 569.0,273.9 569.6,273.8 570.3,273.6 571.0,273.6 571.7,274.2 572.4,273.8 573.1,273.9 573.8,274.1 574.5,274.5 575.1,275.3 575.8,276.4 576.5,277.0 577.2,278.5 577.9,279.5 578.6,280.4 579.3,281.5 580.0,282.8 580.7,283.9 581.3,284.8 582.0,285.8 582.7,287.2 583.4,288.1 584.1,289.1 584.8,289.5 585.5,290.2 586.2,290.8 586.9,291.6 587.5,292.3 588.2,293.2 588.9,294.0 589.6,294.7 590.3,295.3 591.0,295.8 591.7,296.1 592.4,296.6 593.1,297.2 593.7,297.8 594.4,298.4 595.1,298.7 595.8,299.3 596.5,299.5 597.2,300.1 597.9,300.9 598.6,301.0 599.3,301.5 599.9,301.4 600.6,302.2 601.3,302.4 602.0,302.7 602.7,303.0 603.4,303.2 604.1,303.5 604.8,303.7 605.5,304.2 606.1,304.6 606.8,304.7 607.5,304.3 608.2,304.3 608.9,303.8 609.6,303.7 610.3,303.6 611.0,303.5 611.7,303.2 612.3,302.8 613.0,302.5 613.7,302.3 614.4,301.7 615.1,301.8 615.8,301.2 616.5,300.8 617.2,300.6 617.9,299.7 618.5,299.6 619.2,299.1 619.9,298.4 620.6,298.1 621.3,297.7 622.0,297.2 622.7,296.8 623.4,296.7 624.1,296.1 624.7,295.7 625.4,295.0 626.1,294.6 626.8,294.2 627.5,293.6 628.2,293.5 628.9,292.8 629.6,292.3 630.2,291.5 630.9,290.8 631.6,290.3 632.3,290.1 633.0,289.8 633.7,288.6 634.4,288.1 635.1,287.5 635.8,287.0 636.4,286.5 637.1,286.0 637.8,285.5 638.5,285.0 639.2,284.2 639.9,283.6 640.6,282.9 641.3,282.1 642.0,281.6 642.6,280.8 643.3,280.3 644.0,279.8 644.7,279.0 645.4,278.6 646.1,278.0 646.8,277.6 647.5,276.8 648.2,275.9 648.8,275.1 649.5,274.4 650.2,273.8 650.9,272.8 651.6,272.2 652.3,271.6 653.0,271.1 653.7,270.8 654.4,270.0 655.0,269.3 655.7,268.6 656.4,267.8 657.1,267.3 657.8,266.5 658.5,266.1 659.2,265.1 659.9,264.4 660.6,264.1 661.2,263.5 661.9,262.5 662.6,261.8 663.3,261.5 664.0,261.1 664.7,260.6 665.4,259.5 666.1,259.0 666.8,258.5 667.4,258.3 668.1,257.6 668.8,257.3 669.5,256.9 670.2,256.6 670.9,256.3 671.6,256.1 672.3,255.8 672.3,259.4 671.6,259.8 670.9,259.8 670.2,259.9 669.5,260.0 668.8,260.7 668.1,261.5 667.4,262.4 666.8,262.5 666.1,262.8 665.4,263.4 664.7,263.9 664.0,264.2 663.3,264.8 662.6,265.4 661.9,266.2 661.2,266.6 660.6,266.9 659.9,267.6 659.2,268.3 658.5,269.2 657.8,269.8 657.1,270.1 656.4,270.8 655.7,271.3 655.0,272.0 654.4,272.3 653.7,273.1 653.0,273.9 652.3,274.6 651.6,275.4 650.9,275.9 650.2,276.5 649.5,276.7 648.8,277.5 648.2,278.3 647.5,279.1 646.8,279.9 646.1,280.5 645.4,281.1 644.7,281.9 644.0,282.7 643.3,283.5 642.6,284.0 642.0,284.6 641.3,285.3 640.6,285.9 639.9,286.7 639.2,287.1 638.5,287.9 637.8,288.4 637.1,288.8 636.4,289.5 635.8,290.0 635.1,290.8 634.4,291.0 633.7,291.7 633.0,292.6 632.3,292.8 631.6,293.6 630.9,294.3 630.2,294.6 629.6,295.2 628.9,295.9 628.2,296.4 627.5,296.9 626.8,297.0 626.1,297.8 625.4,297.9 624.7,298.4 624.1,299.1 623.4,299.4 622.7,299.8 622.0,300.7 621.3,301.0 620.6,301.6 619.9,301.9 619.2,302.3 618.5,302.4 617.9,302.6 617.2,303.3 616.5,304.1 615.8,304.0 615.1,304.2 614.4,304.7 613.7,305.1 613.0,305.4 612.3,305.7 611.7,306.1 611.0,306.3 610.3,306.7 609.6,306.8 608.9,306.7 608.2,307.2 607.5,307.6 606.8,307.7 606.1,307.6 605.5,307.3 604.8,306.8 604.1,306.4 603.4,306.1 602.7,305.6 602.0,305.5 601.3,304.9 600.6,304.5 599.9,304.2 599.3,303.8 598.6,303.5 597.9,303.5 597.2,302.9 596.5,302.5 595.8,302.1 595.1,301.8 594.4,301.6 593.7,301.0 593.1,300.3 592.4,299.6 591.7,299.1 591.0,298.4 590.3,297.9 589.6,297.6 588.9,296.8 588.2,296.2 587.5,295.5 586.9,294.8 586.2,294.0 585.5,293.3 584.8,292.7 584.1,291.7 583.4,291.3 582.7,290.0 582.0,288.8 581.3,287.6 580.7,286.4 580.0,285.4 579.3,284.5 578.6,283.5 577.9,282.5 577.2,281.3 576.5,280.5 575.8,279.0 575.1,278.4 574.5,277.6 573.8,277.1 573.1,276.4 572.4,276.3 571.7,276.6 571.0,276.6 570.3,276.7 569.6,276.6 569.0,276.6 568.3,276.7 567.6,276.9 566.9,276.9 566.2,276.9 565.5,277.0 564.8,277.0 564.1,277.0 563.4,277.2 562.8,277.2 562.1,277.1 561.4,277.2 560.7,277.0 560.0,277.2 559.3,276.9 558.6,277.0 557.9,276.9 557.2,276.9 556.6,276.7 555.9,277.0 555.2,277.2 554.5,277.5 553.8,277.5 553.1,277.6 552.4,277.6 551.7,277.8 551.0,277.8 550.4,278.0 549.7,278.1 549.0,278.6 548.3,278.7 547.6,278.7" fill="#ff6600" stroke="#ff6600" stroke-width="0.6" stroke-linejoin="round"/>
<line x1="547.60" y1="209.75" x2="547.60" y2="313.50" stroke="#555" stroke-width="1" />
<line x1="541.80" y1="313.50" x2="673.30" y2="313.50" stroke="#333" stroke-width="1" />
<line x1="541.80" y1="313.50" x2="547.60" y2="313.50" stroke="#333" stroke-width="1" />
<text x="526.90" y="317.60" font-size="11.3" font-weight="normal" fill="#1a1a1a" stroke="#1a1a1a" stroke-width="0.22" textLength="12.90" lengthAdjust="spacingAndGlyphs">0.0</text>
<line x1="541.80" y1="292.85" x2="547.60" y2="292.85" stroke="#333" stroke-width="1" />
<text x="526.90" y="296.95" font-size="11.3" font-weight="normal" fill="#1a1a1a" stroke="#1a1a1a" stroke-width="0.22" textLength="12.90" lengthAdjust="spacingAndGlyphs">0.5</text>
<line x1="541.80" y1="272.20" x2="547.60" y2="272.20" stroke="#333" stroke-width="1" />
<text x="526.90" y="276.30" font-size="11.3" font-weight="normal" fill="#1a1a1a" stroke="#1a1a1a" stroke-width="0.22" textLength="12.90" lengthAdjust="spacingAndGlyphs">1.0</text>
<line x1="541.80" y1="251.55" x2="547.60" y2="251.55" stroke="#333" stroke-width="1" />
<text x="526.90" y="255.65" font-size="11.3" font-weight="normal" fill="#1a1a1a" stroke="#1a1a1a" stroke-width="0.22" textLength="12.90" lengthAdjust="spacingAndGlyphs">1.5</text>
<line x1="541.80" y1="230.90" x2="547.60" y2="230.90" stroke="#333" stroke-width="1" />
<text x="526.90" y="235.00" font-size="11.3" font-weight="normal" fill="#1a1a1a" stroke="#1a1a1a" stroke-width="0.22" textLength="12.90" lengthAdjust="spacingAndGlyphs">2.0</text>
<line x1="541.80" y1="210.25" x2="547.60" y2="210.25" stroke="#333" stroke-width="1" />
<text x="526.90" y="214.35" font-size="11.3" font-weight="normal" fill="#1a1a1a" stroke="#1a1a1a" stroke-width="0.22" textLength="12.90" lengthAdjust="spacingAndGlyphs">2.5</text>
<line x1="547.60" y1="313.50" x2="547.60" y2="318.50" stroke="#808080" stroke-width="1.3" />
<line x1="561.38" y1="313.50" x2="561.38" y2="316.50" stroke="#808080" stroke-width="1.3" />
<line x1="575.15" y1="313.50" x2="575.15" y2="318.50" stroke="#808080" stroke-width="1.3" />
<line x1="588.93" y1="313.50" x2="588.93" y2="316.50" stroke="#808080" stroke-width="1.3" />
<line x1="602.70" y1="313.50" x2="602.70" y2="318.50" stroke="#808080" stroke-width="1.3" />
<line x1="616.48" y1="313.50" x2="616.48" y2="316.50" stroke="#808080" stroke-width="1.3" />
<line x1="630.25" y1="313.50" x2="630.25" y2="318.50" stroke="#808080" stroke-width="1.3" />
<line x1="644.02" y1="313.50" x2="644.02" y2="316.50" stroke="#808080" stroke-width="1.3" />
<line x1="657.80" y1="313.50" x2="657.80" y2="318.50" stroke="#808080" stroke-width="1.3" />
<line x1="671.58" y1="313.50" x2="671.58" y2="316.50" stroke="#808080" stroke-width="1.3" />
<text x="544.95" y="332.20" font-size="11.3" font-weight="normal" fill="#1a1a1a" stroke="#1a1a1a" stroke-width="0.22" textLength="5.30" lengthAdjust="spacingAndGlyphs">0</text>
<text x="569.85" y="332.20" font-size="11.3" font-weight="normal" fill="#1a1a1a" stroke="#1a1a1a" stroke-width="0.22" textLength="10.60" lengthAdjust="spacingAndGlyphs">10</text>
<text x="597.40" y="332.20" font-size="11.3" font-weight="normal" fill="#1a1a1a" stroke="#1a1a1a" stroke-width="0.22" textLength="10.60" lengthAdjust="spacingAndGlyphs">20</text>
<text x="624.95" y="332.20" font-size="11.3" font-weight="normal" fill="#1a1a1a" stroke="#1a1a1a" stroke-width="0.22" textLength="10.60" lengthAdjust="spacingAndGlyphs">30</text>
<text x="652.50" y="332.20" font-size="11.3" font-weight="normal" fill="#1a1a1a" stroke="#1a1a1a" stroke-width="0.22" textLength="10.60" lengthAdjust="spacingAndGlyphs">40</text>
<text x="593.90" y="345.10" font-size="10.2" font-weight="normal" fill="#1a1a1a" stroke="#1a1a1a" stroke-width="0.22" textLength="40.20" lengthAdjust="spacingAndGlyphs">Time (min)</text>
<text transform="translate(522.00,293.80) rotate(-90)" font-size="10.2" font-weight="normal" fill="#1a1a1a" stroke="#1a1a1a" stroke-width="0.22" textLength="60.40" lengthAdjust="spacingAndGlyphs">Normalized fLuc</text>
<rect x="572.15" y="310.15" width="1.90" height="1.90" fill="#000"/>
<rect x="572.15" y="304.73" width="1.90" height="1.90" fill="#000"/>
<rect x="572.15" y="299.31" width="1.90" height="1.90" fill="#000"/>
<rect x="572.15" y="293.89" width="1.90" height="1.90" fill="#000"/>
<rect x="572.15" y="288.47" width="1.90" height="1.90" fill="#000"/>
<rect x="572.15" y="283.05" width="1.90" height="1.90" fill="#000"/>
<rect x="572.15" y="277.63" width="1.90" height="1.90" fill="#000"/>
<rect x="572.15" y="272.21" width="1.90" height="1.90" fill="#000"/>
<rect x="572.15" y="266.79" width="1.90" height="1.90" fill="#000"/>
<rect x="572.15" y="261.37" width="1.90" height="1.90" fill="#000"/>
<rect x="572.15" y="255.95" width="1.90" height="1.90" fill="#000"/>
<rect x="572.15" y="250.53" width="1.90" height="1.90" fill="#000"/>
<rect x="572.15" y="245.11" width="1.90" height="1.90" fill="#000"/>
<rect x="572.15" y="239.69" width="1.90" height="1.90" fill="#000"/>
<rect x="572.15" y="234.27" width="1.90" height="1.90" fill="#000"/>
<rect x="572.15" y="228.85" width="1.90" height="1.90" fill="#000"/>
<rect x="605.35" y="310.15" width="1.90" height="1.90" fill="#000"/>
<rect x="605.35" y="304.73" width="1.90" height="1.90" fill="#000"/>
<rect x="605.35" y="299.31" width="1.90" height="1.90" fill="#000"/>
<rect x="605.35" y="293.89" width="1.90" height="1.90" fill="#000"/>
<rect x="605.35" y="288.47" width="1.90" height="1.90" fill="#000"/>
<rect x="605.35" y="283.05" width="1.90" height="1.90" fill="#000"/>
<rect x="605.35" y="277.63" width="1.90" height="1.90" fill="#000"/>
<rect x="605.35" y="272.21" width="1.90" height="1.90" fill="#000"/>
<rect x="605.35" y="266.79" width="1.90" height="1.90" fill="#000"/>
<rect x="605.35" y="261.37" width="1.90" height="1.90" fill="#000"/>
<rect x="605.35" y="255.95" width="1.90" height="1.90" fill="#000"/>
<rect x="605.35" y="250.53" width="1.90" height="1.90" fill="#000"/>
<rect x="605.35" y="245.11" width="1.90" height="1.90" fill="#000"/>
<rect x="605.35" y="239.69" width="1.90" height="1.90" fill="#000"/>
<rect x="605.35" y="234.27" width="1.90" height="1.90" fill="#000"/>
<rect x="605.35" y="228.85" width="1.90" height="1.90" fill="#000"/>
<line x1="573.10" y1="204.20" x2="573.10" y2="216.90" stroke="#000" stroke-width="1.5" />
<polygon points="568.80,216.40 577.40,216.40 573.10,224.80" fill="#000"/>
<line x1="606.30" y1="204.20" x2="606.30" y2="216.90" stroke="#000" stroke-width="1.5" />
<polygon points="602.00,216.40 610.60,216.40 606.30,224.80" fill="#000"/>
<text transform="translate(577.30,201.50) rotate(-90)" font-size="10.1" font-weight="normal" fill="#1a1a1a" stroke="#1a1a1a" stroke-width="0.22" textLength="17.30" lengthAdjust="spacingAndGlyphs">OHT</text>
<text transform="translate(610.10,201.20) rotate(-90)" font-size="10.1" font-weight="normal" fill="#1a1a1a" stroke="#1a1a1a" stroke-width="0.22" textLength="15.50" lengthAdjust="spacingAndGlyphs">EST</text>
</svg></body></html>
